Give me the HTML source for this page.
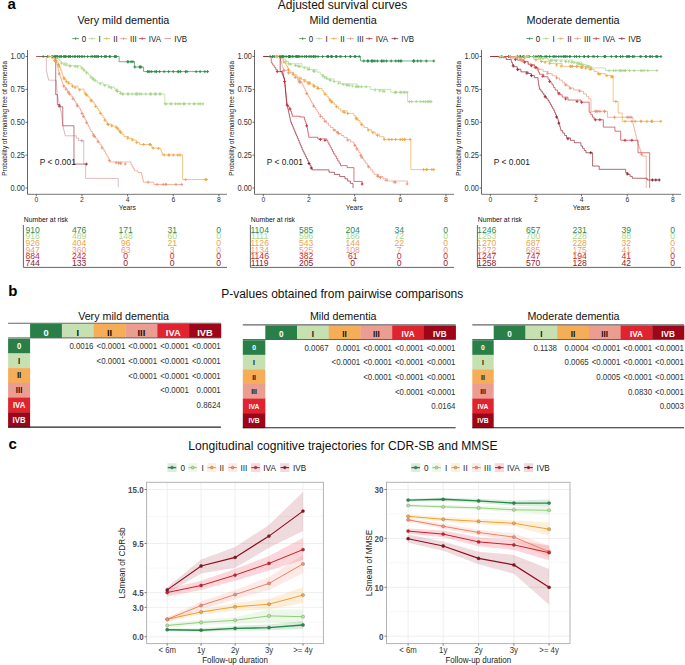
<!DOCTYPE html>
<html><head><meta charset="utf-8"><style>
html,body{margin:0;padding:0;background:#fff;}
svg{display:block;font-family:"Liberation Sans", sans-serif;}
</style></head><body>
<svg width="685" height="665" viewBox="0 0 685 665">
<rect width="685" height="665" fill="#fff"/>
<text x="7.60" y="8.90" font-size="15" fill="#000" text-anchor="start" font-weight="bold" >a</text>
<text x="342.50" y="8.90" font-size="12" fill="#111" text-anchor="middle" font-weight="normal" >Adjusted survival curves</text>
<text x="123.40" y="24.00" font-size="10.8" fill="#111" text-anchor="middle" font-weight="normal" >Very mild dementia</text>
<line x1="72.30" y1="38.60" x2="78.90" y2="38.60" stroke="#2a8a4a" stroke-width="0.75" />
<line x1="75.60" y1="37.30" x2="75.60" y2="39.90" stroke="#2a8a4a" stroke-width="0.75" />
<text transform="translate(81.70,41.60) scale(1,1.15)" font-size="8" fill="#222" text-anchor="start" font-weight="normal" >0</text>
<line x1="88.70" y1="38.60" x2="95.30" y2="38.60" stroke="#a8d68c" stroke-width="0.75" />
<line x1="92.00" y1="37.30" x2="92.00" y2="39.90" stroke="#a8d68c" stroke-width="0.75" />
<text transform="translate(98.60,41.60) scale(1,1.15)" font-size="8" fill="#222" text-anchor="start" font-weight="normal" >I</text>
<line x1="103.50" y1="38.60" x2="110.10" y2="38.60" stroke="#f0a542" stroke-width="0.75" />
<line x1="106.80" y1="37.30" x2="106.80" y2="39.90" stroke="#f0a542" stroke-width="0.75" />
<text transform="translate(113.20,41.60) scale(1,1.15)" font-size="8" fill="#222" text-anchor="start" font-weight="normal" >II</text>
<line x1="120.20" y1="38.60" x2="126.80" y2="38.60" stroke="#ee9077" stroke-width="0.75" />
<line x1="123.50" y1="37.30" x2="123.50" y2="39.90" stroke="#ee9077" stroke-width="0.75" />
<text transform="translate(130.10,41.60) scale(1,1.15)" font-size="8" fill="#222" text-anchor="start" font-weight="normal" >III</text>
<line x1="138.90" y1="38.60" x2="145.50" y2="38.60" stroke="#b8303e" stroke-width="0.75" />
<line x1="142.20" y1="37.30" x2="142.20" y2="39.90" stroke="#b8303e" stroke-width="0.75" />
<text transform="translate(148.80,41.60) scale(1,1.15)" font-size="8" fill="#222" text-anchor="start" font-weight="normal" >IVA</text>
<line x1="164.50" y1="38.60" x2="171.10" y2="38.60" stroke="#c07884" stroke-width="0.75" />
<text transform="translate(174.30,41.60) scale(1,1.15)" font-size="8" fill="#222" text-anchor="start" font-weight="normal" >IVB</text>
<line x1="27.50" y1="50.00" x2="27.50" y2="194.30" stroke="#555" stroke-width="0.9" />
<line x1="27.50" y1="194.30" x2="227.00" y2="194.30" stroke="#666" stroke-width="0.9" />
<line x1="25.50" y1="188.00" x2="27.50" y2="188.00" stroke="#444" stroke-width="0.8" />
<text transform="translate(24.90,190.60) scale(1,1.15)" font-size="7.4" fill="#333" text-anchor="end" font-weight="normal" >0.00</text>
<line x1="25.50" y1="155.12" x2="27.50" y2="155.12" stroke="#444" stroke-width="0.8" />
<text transform="translate(24.90,157.72) scale(1,1.15)" font-size="7.4" fill="#333" text-anchor="end" font-weight="normal" >0.25</text>
<line x1="25.50" y1="122.25" x2="27.50" y2="122.25" stroke="#444" stroke-width="0.8" />
<text transform="translate(24.90,124.85) scale(1,1.15)" font-size="7.4" fill="#333" text-anchor="end" font-weight="normal" >0.50</text>
<line x1="25.50" y1="89.38" x2="27.50" y2="89.38" stroke="#444" stroke-width="0.8" />
<text transform="translate(24.90,91.97) scale(1,1.15)" font-size="7.4" fill="#333" text-anchor="end" font-weight="normal" >0.75</text>
<line x1="25.50" y1="56.50" x2="27.50" y2="56.50" stroke="#444" stroke-width="0.8" />
<text transform="translate(24.90,59.10) scale(1,1.15)" font-size="7.4" fill="#333" text-anchor="end" font-weight="normal" >1.00</text>
<line x1="36.30" y1="194.30" x2="36.30" y2="196.30" stroke="#444" stroke-width="0.8" />
<text x="36.30" y="201.60" font-size="6.8" fill="#333" text-anchor="middle" font-weight="normal" >0</text>
<line x1="81.96" y1="194.30" x2="81.96" y2="196.30" stroke="#444" stroke-width="0.8" />
<text x="81.96" y="201.60" font-size="6.8" fill="#333" text-anchor="middle" font-weight="normal" >2</text>
<line x1="127.62" y1="194.30" x2="127.62" y2="196.30" stroke="#444" stroke-width="0.8" />
<text x="127.62" y="201.60" font-size="6.8" fill="#333" text-anchor="middle" font-weight="normal" >4</text>
<line x1="173.28" y1="194.30" x2="173.28" y2="196.30" stroke="#444" stroke-width="0.8" />
<text x="173.28" y="201.60" font-size="6.8" fill="#333" text-anchor="middle" font-weight="normal" >6</text>
<line x1="218.94" y1="194.30" x2="218.94" y2="196.30" stroke="#444" stroke-width="0.8" />
<text x="218.94" y="201.60" font-size="6.8" fill="#333" text-anchor="middle" font-weight="normal" >8</text>
<text x="127.40" y="210.00" font-size="6.8" fill="#222" text-anchor="middle" font-weight="normal" >Years</text>
<text transform="translate(6.90,118.40) rotate(-90) scale(1.0,1.12)" font-size="6.4" fill="#222" text-anchor="middle">Probability of remaining free of dementia</text>
<path d="M36.30,56.50L119.17,56.50L119.17,61.76L134.47,61.76L134.47,67.02L143.60,67.02L143.60,71.62L208.67,71.62" fill="none" stroke="#2a8a4a" stroke-width="0.65"/>
<path d="M36.30,56.50L54.56,56.50L57.99,56.50L57.99,59.13L59.70,59.13L59.70,61.10L61.41,61.10L61.41,63.08L67.58,63.08L67.58,65.70L80.59,65.70L80.59,67.02L82.64,67.02L82.64,69.05L84.70,69.05L84.70,71.07L86.75,71.07L86.75,73.10L88.81,73.10L88.81,75.12L90.86,75.12L90.86,77.15L93.07,77.15L93.07,79.03L95.28,79.03L95.28,80.92L97.48,80.92L97.48,82.80L103.12,82.80L103.12,84.86L108.75,84.86L108.75,86.92L114.38,86.92L114.38,88.98L117.69,88.98L117.69,91.48L121.00,91.48L121.00,93.98L164.83,93.98L164.83,103.84L203.42,103.84" fill="none" stroke="#a8d68c" stroke-width="0.65"/>
<path d="M36.30,56.50L48.86,56.50L51.82,56.50L51.82,58.60L54.79,58.60L54.79,60.71L57.76,60.71L57.76,62.81L58.73,62.81L58.73,65.28L59.70,65.28L59.70,67.74L60.67,67.74L60.67,70.21L61.64,70.21L61.64,72.67L62.33,72.67L62.33,74.84L63.01,74.84L63.01,77.01L64.61,77.01L64.61,79.32L66.21,79.32L66.21,81.62L69.18,81.62L69.18,83.85L72.14,83.85L72.14,86.09L78.08,86.09L78.08,89.11L84.01,89.11L84.01,92.27L86.02,92.27L86.02,94.64L88.03,94.64L88.03,97.00L90.04,97.00L90.04,99.37L92.05,99.37L92.05,101.74L94.06,101.74L94.06,104.10L95.56,104.10L95.56,106.34L97.05,106.34L97.05,108.57L98.55,108.57L98.55,110.81L100.05,110.81L100.05,113.04L101.54,113.04L101.54,115.28L103.04,115.28L103.04,117.52L104.54,117.52L104.54,119.75L106.03,119.75L106.03,121.99L107.53,121.99L107.53,124.22L112.21,124.22L112.21,126.06L116.89,126.06L116.89,127.90L118.66,127.90L118.66,130.07L120.43,130.07L120.43,132.24L122.20,132.24L122.20,134.41L123.97,134.41L123.97,136.58L128.42,136.58L128.42,138.36L132.87,138.36L132.87,140.13L136.30,140.13L136.30,142.30L139.72,142.30L139.72,144.47L151.13,144.47L151.59,144.47L151.59,146.25L152.05,146.25L152.05,148.02L160.04,148.02L160.04,148.55L160.88,148.55L160.88,150.70L161.71,150.70L161.71,152.85L162.55,152.85L162.55,154.99L182.64,154.99L182.64,179.58L206.38,179.58" fill="none" stroke="#f0a542" stroke-width="0.65"/>
<path d="M36.30,56.50L54.11,56.50L54.87,56.50L54.87,58.60L55.63,58.60L55.63,60.71L56.39,60.71L56.39,62.81L56.98,62.81L56.98,65.21L57.58,65.21L57.58,67.60L58.17,67.60L58.17,69.99L58.76,69.99L58.76,72.39L59.36,72.39L59.36,74.78L60.09,74.78L60.09,76.88L60.82,76.88L60.82,78.99L61.55,78.99L61.55,81.09L62.28,81.09L62.28,83.19L63.01,83.19L63.01,85.30L64.53,85.30L64.53,87.31L66.06,87.31L66.06,89.33L67.58,89.33L67.58,91.35L69.33,91.35L69.33,93.85L71.08,93.85L71.08,96.34L72.83,96.34L72.83,98.84L74.38,98.84L74.38,101.24L75.93,101.24L75.93,103.63L77.49,103.63L77.49,106.02L79.04,106.02L79.04,108.42L80.59,108.42L80.59,110.81L81.73,110.81L81.73,113.10L82.87,113.10L82.87,115.40L84.01,115.40L84.01,117.69L85.16,117.69L85.16,119.99L86.30,119.99L86.30,122.28L87.44,122.28L87.44,124.57L88.58,124.57L88.58,126.87L89.72,126.87L89.72,129.16L90.86,129.16L90.86,131.45L92.40,131.45L92.40,133.69L93.93,133.69L93.93,135.93L95.46,135.93L95.46,138.16L97.00,138.16L97.00,140.40L98.53,140.40L98.53,142.63L100.06,142.63L100.06,144.87L101.59,144.87L101.59,147.10L102.92,147.10L102.92,149.37L104.24,149.37L104.24,151.63L105.57,151.63L105.57,153.89L106.89,153.89L106.89,156.15L108.21,156.15L108.21,158.41L109.13,158.41L109.13,160.19L110.04,160.19L110.04,161.96L131.04,161.96L131.04,164.72L132.19,164.72L132.19,166.74L133.33,166.74L133.33,168.76L134.47,168.76L134.47,170.77L138.01,170.77L138.01,172.55L141.55,172.55L141.55,174.32L142.00,174.32L142.00,176.30L142.46,176.30L142.46,178.27L142.92,178.27L142.92,180.24L143.37,180.24L143.37,182.21L152.96,182.21L153.87,182.21L153.87,184.45L181.73,184.45" fill="none" stroke="#ee9077" stroke-width="0.65"/>
<path d="M36.30,56.50L46.35,56.50L46.35,71.62L46.86,71.62L46.86,73.76L47.37,73.76L47.37,75.90L47.89,75.90L47.89,78.03L48.40,78.03L48.40,80.17L56.16,80.17L56.33,80.17L56.33,82.42L56.49,82.42L56.49,84.68L56.65,84.68L56.65,86.93L56.81,86.93L56.81,89.19L56.98,89.19L56.98,91.44L57.14,91.44L57.14,93.70L57.30,93.70L57.30,95.95L57.79,95.95L57.79,98.14L58.27,98.14L58.27,100.33L58.75,100.33L58.75,102.53L59.23,102.53L59.23,104.72L59.71,104.72L59.71,106.91L60.20,106.91L60.20,109.10L60.68,109.10L60.68,111.29L61.16,111.29L61.16,113.48L61.64,113.48L61.64,115.67L61.87,115.67L61.87,117.94L62.10,117.94L62.10,120.20L62.33,120.20L62.33,122.46L62.55,122.46L62.55,124.72L62.78,124.72L62.78,126.98L63.35,126.98L63.35,129.19L63.92,129.19L63.92,131.39L64.50,131.39L64.50,133.59L65.07,133.59L65.07,135.79L73.97,135.79L76.25,135.79L76.25,138.23L78.54,138.23L78.54,140.66L83.79,140.66L83.79,164.07L85.61,164.07L85.61,178.40L118.26,178.40L118.26,187.21" fill="none" stroke="#cf9aa2" stroke-width="0.65"/>
<path d="M36.30,56.50L55.71,56.50L55.71,94.64L57.30,94.64L57.30,104.50L60.04,104.50L60.04,106.80L62.78,106.80L62.78,109.10L62.78,125.80L73.97,125.80L73.97,164.07L86.53,164.07" fill="none" stroke="#9b2f3e" stroke-width="0.65"/>
<path d="M41.75,56.50h2.8M43.15,55.00v3M46.31,56.50h2.8M47.71,55.00v3M50.88,56.50h2.8M52.28,55.00v3M55.45,56.50h2.8M56.85,55.00v3M57.73,56.50h2.8M59.13,55.00v3M60.01,56.50h2.8M61.41,55.00v3M62.30,56.50h2.8M63.70,55.00v3M64.58,56.50h2.8M65.98,55.00v3M66.86,56.50h2.8M68.26,55.00v3M69.14,56.50h2.8M70.54,55.00v3M71.43,56.50h2.8M72.83,55.00v3M73.71,56.50h2.8M75.11,55.00v3M75.99,56.50h2.8M77.39,55.00v3M78.28,56.50h2.8M79.68,55.00v3M80.56,56.50h2.8M81.96,55.00v3M82.84,56.50h2.8M84.24,55.00v3M86.27,56.50h2.8M87.67,55.00v3M89.69,56.50h2.8M91.09,55.00v3M93.12,56.50h2.8M94.52,55.00v3M96.54,56.50h2.8M97.94,55.00v3M99.97,56.50h2.8M101.37,55.00v3M103.39,56.50h2.8M104.79,55.00v3M107.96,56.50h2.8M109.36,55.00v3M113.66,56.50h2.8M115.06,55.00v3M126.22,61.76h2.8M127.62,60.26v3M129.64,61.76h2.8M131.04,60.26v3M146.77,71.62h2.8M148.17,70.12v3M153.62,71.62h2.8M155.02,70.12v3M158.18,71.62h2.8M159.58,70.12v3M162.75,71.62h2.8M164.15,70.12v3M167.31,71.62h2.8M168.71,70.12v3M171.88,71.62h2.8M173.28,70.12v3M176.45,71.62h2.8M177.85,70.12v3M185.58,71.62h2.8M186.98,70.12v3M194.71,71.62h2.8M196.11,70.12v3M206.12,71.62h2.8M207.52,70.12v3M96.89,56.50h2.8M98.29,55.00v3M68.66,56.50h2.8M70.06,55.00v3M150.29,71.62h2.8M151.69,70.12v3M55.86,56.50h2.8M57.26,55.00v3M131.51,61.76h2.8M132.91,60.26v3M103.73,56.50h2.8M105.13,55.00v3M53.50,56.50h2.8M54.90,55.00v3M126.86,61.76h2.8M128.26,60.26v3M50.15,56.50h2.8M51.55,55.00v3M114.82,56.50h2.8M116.22,55.00v3M55.43,56.50h2.8M56.83,55.00v3M58.84,56.50h2.8M60.24,55.00v3M113.33,56.50h2.8M114.73,55.00v3M179.00,71.62h2.8M180.40,70.12v3M64.24,56.50h2.8M65.64,55.00v3M80.47,56.50h2.8M81.87,55.00v3M146.45,71.62h2.8M147.85,70.12v3M198.73,71.62h2.8M200.13,70.12v3M138.24,67.02h2.8M139.64,65.52v3M108.78,56.50h2.8M110.18,55.00v3M203.39,71.62h2.8M204.79,70.12v3M51.64,56.50h2.8M53.04,55.00v3M184.16,71.62h2.8M185.56,70.12v3M91.31,56.50h2.8M92.71,55.00v3M67.58,56.50h2.8M68.98,55.00v3M63.26,56.50h2.8M64.66,55.00v3M94.39,56.50h2.8M95.79,55.00v3M177.25,71.62h2.8M178.65,70.12v3M73.53,56.50h2.8M74.93,55.00v3M138.97,67.02h2.8M140.37,65.52v3M148.32,71.62h2.8M149.72,70.12v3M104.82,56.50h2.8M106.22,55.00v3M133.44,67.02h2.8M134.84,65.52v3M54.28,56.50h2.8M55.68,55.00v3M53.76,56.50h2.8M55.16,55.00v3M77.65,56.50h2.8M79.05,55.00v3M155.10,71.62h2.8M156.50,70.12v3M113.83,56.50h2.8M115.23,55.00v3M95.31,56.50h2.8M96.71,55.00v3M139.62,67.02h2.8M141.02,65.52v3" stroke="#2a8a4a" stroke-width="0.9" fill="none"/>
<path d="M55.45,58.25h2.8M56.85,56.75v3M60.01,63.08h2.8M61.41,61.58v3M64.58,65.02h2.8M65.98,63.52v3M69.14,66.00h2.8M70.54,64.50v3M73.71,66.47h2.8M75.11,64.97v3M75.99,66.70h2.8M77.39,65.20v3M80.56,68.37h2.8M81.96,66.87v3M85.13,72.87h2.8M86.53,71.37v3M91.97,79.29h2.8M93.38,77.79v3M98.82,83.80h2.8M100.22,82.30v3M103.39,85.47h2.8M104.79,83.97v3M107.96,87.14h2.8M109.36,85.64v3M114.80,90.36h2.8M116.20,88.86v3M121.65,93.98h2.8M123.05,92.48v3M126.22,93.98h2.8M127.62,92.48v3M130.79,93.98h2.8M132.19,92.48v3M135.35,93.98h2.8M136.75,92.48v3M139.92,93.98h2.8M141.32,92.48v3M144.48,93.98h2.8M145.88,92.48v3M149.05,93.98h2.8M150.45,92.48v3M153.62,93.98h2.8M155.02,92.48v3M158.18,93.98h2.8M159.58,92.48v3M169.60,103.84h2.8M171.00,102.34v3M174.16,103.84h2.8M175.56,102.34v3M178.73,103.84h2.8M180.13,102.34v3M183.29,103.84h2.8M184.69,102.34v3M187.86,103.84h2.8M189.26,102.34v3M192.43,103.84h2.8M193.83,102.34v3M196.99,103.84h2.8M198.39,102.34v3M201.56,103.84h2.8M202.96,102.34v3M115.63,90.98h2.8M117.03,89.48v3M91.39,78.79h2.8M92.79,77.29v3M169.53,103.84h2.8M170.93,102.34v3M154.46,93.98h2.8M155.86,92.48v3M82.60,70.38h2.8M84.00,68.88v3M134.78,93.98h2.8M136.18,92.48v3M127.00,93.98h2.8M128.40,92.48v3M182.29,103.84h2.8M183.69,102.34v3M159.27,93.98h2.8M160.67,92.48v3M89.52,77.19h2.8M90.92,75.69v3M198.88,103.84h2.8M200.28,102.34v3M62.68,64.21h2.8M64.08,62.71v3M110.09,87.92h2.8M111.49,86.42v3M163.65,103.84h2.8M165.05,102.34v3M68.04,65.89h2.8M69.44,64.39v3M121.28,93.98h2.8M122.68,92.48v3M50.23,56.50h2.8M51.63,55.00v3M149.60,93.98h2.8M151.00,92.48v3M164.82,103.84h2.8M166.22,102.34v3M134.56,93.98h2.8M135.96,92.48v3M182.34,103.84h2.8M183.74,102.34v3M93.60,80.68h2.8M95.00,79.18v3M153.88,93.98h2.8M155.28,92.48v3M137.93,93.98h2.8M139.33,92.48v3M135.65,93.98h2.8M137.05,92.48v3M116.10,91.34h2.8M117.50,89.84v3M176.73,103.84h2.8M178.13,102.34v3M193.28,103.84h2.8M194.68,102.34v3M118.93,93.47h2.8M120.33,91.97v3M148.96,93.98h2.8M150.36,92.48v3" stroke="#a8d68c" stroke-width="0.9" fill="none"/>
<path d="M53.16,60.55h2.8M54.56,59.05v3M57.73,66.29h2.8M59.13,64.79v3M62.30,78.00h2.8M63.70,76.50v3M66.86,83.16h2.8M68.26,81.66v3M73.71,87.60h2.8M75.11,86.10v3M78.28,89.96h2.8M79.68,88.46v3M85.13,95.23h2.8M86.53,93.73v3M89.69,100.61h2.8M91.09,99.11v3M94.26,106.49h2.8M95.66,104.99v3M98.82,113.31h2.8M100.22,111.81v3M103.39,120.13h2.8M104.79,118.63v3M110.24,125.84h2.8M111.64,124.34v3M114.80,127.64h2.8M116.20,126.14v3M119.37,132.66h2.8M120.77,131.16v3M126.22,138.04h2.8M127.62,136.54v3M130.79,139.86h2.8M132.19,138.36v3M135.35,142.59h2.8M136.75,141.09v3M142.20,144.47h2.8M143.60,142.97v3M149.05,144.47h2.8M150.45,142.97v3M162.75,154.99h2.8M164.15,153.49v3M167.31,154.99h2.8M168.71,153.49v3M171.88,154.99h2.8M173.28,153.49v3M178.73,154.99h2.8M180.13,153.49v3M205.21,179.58h2.8M206.61,178.08v3M53.80,60.99h2.8M55.20,59.49v3M156.94,148.44h2.8M158.34,146.94v3M148.19,144.47h2.8M149.59,142.97v3M203.87,179.58h2.8M205.27,178.08v3M176.32,154.99h2.8M177.72,153.49v3M89.84,100.78h2.8M91.24,99.28v3M106.13,124.22h2.8M107.53,122.72v3M151.65,148.09h2.8M153.05,146.59v3M47.66,56.65h2.8M49.06,55.15v3M118.34,131.40h2.8M119.74,129.90v3M71.08,86.26h2.8M72.48,84.76v3M62.88,78.84h2.8M64.28,77.34v3M53.52,60.80h2.8M54.92,59.30v3M167.68,154.99h2.8M169.08,153.49v3M64.85,81.65h2.8M66.25,80.15v3M83.89,93.77h2.8M85.29,92.27v3M106.96,124.55h2.8M108.36,123.05v3M184.29,179.58h2.8M185.69,178.08v3M57.00,64.44h2.8M58.40,62.94v3M116.33,128.93h2.8M117.73,127.43v3" stroke="#f0a542" stroke-width="0.9" fill="none"/>
<path d="M57.73,73.86h2.8M59.13,72.36v3M62.30,86.21h2.8M63.70,84.71v3M66.86,92.33h2.8M68.26,90.83v3M71.43,98.84h2.8M72.83,97.34v3M75.99,105.88h2.8M77.39,104.38v3M80.56,113.56h2.8M81.96,112.06v3M85.13,122.74h2.8M86.53,121.24v3M91.97,135.12h2.8M93.38,133.62v3M96.54,141.78h2.8M97.94,140.28v3M107.96,160.63h2.8M109.36,159.13v3M114.80,162.77h2.8M116.20,161.27v3M117.09,163.07h2.8M118.49,161.57v3M119.37,163.37h2.8M120.77,161.87v3M123.94,163.97h2.8M125.34,162.47v3M146.77,182.21h2.8M148.17,180.71v3M180.33,184.45h2.8M181.73,182.95v3M118.92,163.31h2.8M120.32,161.81v3M164.43,184.45h2.8M165.83,182.95v3M155.70,184.45h2.8M157.10,182.95v3M161.79,184.45h2.8M163.19,182.95v3M81.98,116.41h2.8M83.38,114.91v3M100.63,147.86h2.8M102.03,146.36v3M92.93,136.51h2.8M94.33,135.01v3M164.54,184.45h2.8M165.94,182.95v3M174.57,184.45h2.8M175.97,182.95v3M64.60,89.26h2.8M66.00,87.76v3M68.05,94.02h2.8M69.45,92.52v3M75.65,105.35h2.8M77.05,103.85v3" stroke="#ee9077" stroke-width="0.9" fill="none"/>
<path d="M57.73,106.03h2.8M59.13,104.53v3M85.13,164.07h2.8M86.53,162.57v3" stroke="#9b2f3e" stroke-width="0.9" fill="none"/>
<path d="M80.56,140.66h2.8M81.96,139.16v3" stroke="#cf9aa2" stroke-width="0.9" fill="none"/>
<text transform="translate(39.80,164.80) scale(1,1.05)" font-size="8.4" fill="#222" text-anchor="start" font-weight="normal" >P &lt; 0.001</text>
<text x="23.80" y="221.70" font-size="6.8" fill="#111" text-anchor="start" font-weight="normal" >Number at risk</text>
<line x1="23.40" y1="225.00" x2="23.40" y2="267.40" stroke="#555" stroke-width="0.9" />
<line x1="23.40" y1="267.40" x2="227.00" y2="267.40" stroke="#555" stroke-width="0.9" />
<text x="32.70" y="232.80" font-size="8.6" fill="#2e8a50" text-anchor="middle" font-weight="normal" >910</text>
<text x="79.20" y="232.80" font-size="8.6" fill="#2e8a50" text-anchor="middle" font-weight="normal" >476</text>
<text x="125.70" y="232.80" font-size="8.6" fill="#2e8a50" text-anchor="middle" font-weight="normal" >171</text>
<text x="172.20" y="232.80" font-size="8.6" fill="#2e8a50" text-anchor="middle" font-weight="normal" >31</text>
<text x="218.70" y="232.80" font-size="8.6" fill="#2e8a50" text-anchor="middle" font-weight="normal" >0</text>
<text x="32.70" y="239.40" font-size="8.6" fill="#a6d890" text-anchor="middle" font-weight="normal" >918</text>
<text x="79.20" y="239.40" font-size="8.6" fill="#a6d890" text-anchor="middle" font-weight="normal" >489</text>
<text x="125.70" y="239.40" font-size="8.6" fill="#a6d890" text-anchor="middle" font-weight="normal" >148</text>
<text x="172.20" y="239.40" font-size="8.6" fill="#a6d890" text-anchor="middle" font-weight="normal" >60</text>
<text x="218.70" y="239.40" font-size="8.6" fill="#a6d890" text-anchor="middle" font-weight="normal" >0</text>
<text x="32.70" y="246.00" font-size="8.6" fill="#f0a448" text-anchor="middle" font-weight="normal" >926</text>
<text x="79.20" y="246.00" font-size="8.6" fill="#f0a448" text-anchor="middle" font-weight="normal" >404</text>
<text x="125.70" y="246.00" font-size="8.6" fill="#f0a448" text-anchor="middle" font-weight="normal" >96</text>
<text x="172.20" y="246.00" font-size="8.6" fill="#f0a448" text-anchor="middle" font-weight="normal" >21</text>
<text x="218.70" y="246.00" font-size="8.6" fill="#f0a448" text-anchor="middle" font-weight="normal" >0</text>
<text x="32.70" y="252.60" font-size="8.6" fill="#ef9a88" text-anchor="middle" font-weight="normal" >947</text>
<text x="79.20" y="252.60" font-size="8.6" fill="#ef9a88" text-anchor="middle" font-weight="normal" >360</text>
<text x="125.70" y="252.60" font-size="8.6" fill="#ef9a88" text-anchor="middle" font-weight="normal" >63</text>
<text x="172.20" y="252.60" font-size="8.6" fill="#ef9a88" text-anchor="middle" font-weight="normal" >3</text>
<text x="218.70" y="252.60" font-size="8.6" fill="#ef9a88" text-anchor="middle" font-weight="normal" >0</text>
<text x="32.70" y="259.20" font-size="8.6" fill="#c42a36" text-anchor="middle" font-weight="normal" >884</text>
<text x="79.20" y="259.20" font-size="8.6" fill="#c42a36" text-anchor="middle" font-weight="normal" >242</text>
<text x="125.70" y="259.20" font-size="8.6" fill="#c42a36" text-anchor="middle" font-weight="normal" >0</text>
<text x="172.20" y="259.20" font-size="8.6" fill="#c42a36" text-anchor="middle" font-weight="normal" >0</text>
<text x="218.70" y="259.20" font-size="8.6" fill="#c42a36" text-anchor="middle" font-weight="normal" >0</text>
<text x="32.70" y="265.80" font-size="8.6" fill="#8a1c2c" text-anchor="middle" font-weight="normal" >744</text>
<text x="79.20" y="265.80" font-size="8.6" fill="#8a1c2c" text-anchor="middle" font-weight="normal" >133</text>
<text x="125.70" y="265.80" font-size="8.6" fill="#8a1c2c" text-anchor="middle" font-weight="normal" >0</text>
<text x="172.20" y="265.80" font-size="8.6" fill="#8a1c2c" text-anchor="middle" font-weight="normal" >0</text>
<text x="218.70" y="265.80" font-size="8.6" fill="#8a1c2c" text-anchor="middle" font-weight="normal" >0</text>
<text x="343.10" y="24.00" font-size="10.8" fill="#111" text-anchor="middle" font-weight="normal" >Mild dementia</text>
<line x1="299.30" y1="38.60" x2="305.90" y2="38.60" stroke="#2a8a4a" stroke-width="0.75" />
<line x1="302.60" y1="37.30" x2="302.60" y2="39.90" stroke="#2a8a4a" stroke-width="0.75" />
<text transform="translate(308.70,41.60) scale(1,1.15)" font-size="8" fill="#222" text-anchor="start" font-weight="normal" >0</text>
<line x1="315.70" y1="38.60" x2="322.30" y2="38.60" stroke="#a8d68c" stroke-width="0.75" />
<line x1="319.00" y1="37.30" x2="319.00" y2="39.90" stroke="#a8d68c" stroke-width="0.75" />
<text transform="translate(325.60,41.60) scale(1,1.15)" font-size="8" fill="#222" text-anchor="start" font-weight="normal" >I</text>
<line x1="330.50" y1="38.60" x2="337.10" y2="38.60" stroke="#f0a542" stroke-width="0.75" />
<line x1="333.80" y1="37.30" x2="333.80" y2="39.90" stroke="#f0a542" stroke-width="0.75" />
<text transform="translate(340.20,41.60) scale(1,1.15)" font-size="8" fill="#222" text-anchor="start" font-weight="normal" >II</text>
<line x1="347.20" y1="38.60" x2="353.80" y2="38.60" stroke="#ee9077" stroke-width="0.75" />
<line x1="350.50" y1="37.30" x2="350.50" y2="39.90" stroke="#ee9077" stroke-width="0.75" />
<text transform="translate(357.10,41.60) scale(1,1.15)" font-size="8" fill="#222" text-anchor="start" font-weight="normal" >III</text>
<line x1="365.90" y1="38.60" x2="372.50" y2="38.60" stroke="#c42a36" stroke-width="0.75" />
<line x1="369.20" y1="37.30" x2="369.20" y2="39.90" stroke="#c42a36" stroke-width="0.75" />
<text transform="translate(375.80,41.60) scale(1,1.15)" font-size="8" fill="#222" text-anchor="start" font-weight="normal" >IVA</text>
<line x1="391.50" y1="38.60" x2="398.10" y2="38.60" stroke="#8e1f33" stroke-width="0.75" />
<line x1="394.80" y1="37.30" x2="394.80" y2="39.90" stroke="#8e1f33" stroke-width="0.75" />
<text transform="translate(401.30,41.60) scale(1,1.15)" font-size="8" fill="#222" text-anchor="start" font-weight="normal" >IVB</text>
<line x1="254.50" y1="50.00" x2="254.50" y2="194.30" stroke="#555" stroke-width="0.9" />
<line x1="254.50" y1="194.30" x2="454.00" y2="194.30" stroke="#666" stroke-width="0.9" />
<line x1="252.50" y1="188.00" x2="254.50" y2="188.00" stroke="#444" stroke-width="0.8" />
<text transform="translate(251.90,190.60) scale(1,1.15)" font-size="7.4" fill="#333" text-anchor="end" font-weight="normal" >0.00</text>
<line x1="252.50" y1="155.12" x2="254.50" y2="155.12" stroke="#444" stroke-width="0.8" />
<text transform="translate(251.90,157.72) scale(1,1.15)" font-size="7.4" fill="#333" text-anchor="end" font-weight="normal" >0.25</text>
<line x1="252.50" y1="122.25" x2="254.50" y2="122.25" stroke="#444" stroke-width="0.8" />
<text transform="translate(251.90,124.85) scale(1,1.15)" font-size="7.4" fill="#333" text-anchor="end" font-weight="normal" >0.50</text>
<line x1="252.50" y1="89.38" x2="254.50" y2="89.38" stroke="#444" stroke-width="0.8" />
<text transform="translate(251.90,91.97) scale(1,1.15)" font-size="7.4" fill="#333" text-anchor="end" font-weight="normal" >0.75</text>
<line x1="252.50" y1="56.50" x2="254.50" y2="56.50" stroke="#444" stroke-width="0.8" />
<text transform="translate(251.90,59.10) scale(1,1.15)" font-size="7.4" fill="#333" text-anchor="end" font-weight="normal" >1.00</text>
<line x1="263.30" y1="194.30" x2="263.30" y2="196.30" stroke="#444" stroke-width="0.8" />
<text x="263.30" y="201.60" font-size="6.8" fill="#333" text-anchor="middle" font-weight="normal" >0</text>
<line x1="308.96" y1="194.30" x2="308.96" y2="196.30" stroke="#444" stroke-width="0.8" />
<text x="308.96" y="201.60" font-size="6.8" fill="#333" text-anchor="middle" font-weight="normal" >2</text>
<line x1="354.62" y1="194.30" x2="354.62" y2="196.30" stroke="#444" stroke-width="0.8" />
<text x="354.62" y="201.60" font-size="6.8" fill="#333" text-anchor="middle" font-weight="normal" >4</text>
<line x1="400.28" y1="194.30" x2="400.28" y2="196.30" stroke="#444" stroke-width="0.8" />
<text x="400.28" y="201.60" font-size="6.8" fill="#333" text-anchor="middle" font-weight="normal" >6</text>
<line x1="445.94" y1="194.30" x2="445.94" y2="196.30" stroke="#444" stroke-width="0.8" />
<text x="445.94" y="201.60" font-size="6.8" fill="#333" text-anchor="middle" font-weight="normal" >8</text>
<text x="354.40" y="210.00" font-size="6.8" fill="#222" text-anchor="middle" font-weight="normal" >Years</text>
<text transform="translate(233.90,118.40) rotate(-90) scale(1.0,1.12)" font-size="6.4" fill="#222" text-anchor="middle">Probability of remaining free of dementia</text>
<path d="M263.30,56.50L360.56,56.50L360.56,60.97L433.84,60.97" fill="none" stroke="#2a8a4a" stroke-width="0.65"/>
<path d="M263.30,56.50L279.97,56.50L282.78,56.50L282.78,58.91L285.60,58.91L285.60,61.32L288.41,61.32L288.41,63.73L301.88,63.73L301.88,67.02L309.42,67.02L309.42,69.58L316.95,69.58L316.95,72.15L320.30,72.15L320.30,74.38L323.65,74.38L323.65,76.62L327.00,76.62L327.00,78.86L333.73,78.86L333.73,81.35L340.47,81.35L340.47,83.85L357.13,83.85L357.13,86.75L370.60,86.75L370.60,89.38L390.69,89.38L390.69,92.27L407.59,92.27L407.59,101.60L431.10,101.60" fill="none" stroke="#a8d68c" stroke-width="0.65"/>
<path d="M263.30,56.50L279.97,56.50L281.64,56.50L281.64,58.91L283.31,58.91L283.31,61.32L284.99,61.32L284.99,63.73L286.24,63.73L286.24,65.87L287.50,65.87L287.50,68.01L288.76,68.01L288.76,70.14L290.01,70.14L290.01,72.28L293.44,72.28L293.44,74.71L296.86,74.71L296.86,77.15L301.35,77.15L301.35,79.47L305.84,79.47L305.84,81.79L310.33,81.79L310.33,84.11L314.21,84.11L314.21,86.31L318.09,86.31L318.09,88.50L321.97,88.50L321.97,90.69L323.66,90.69L323.66,92.72L325.35,92.72L325.35,94.74L327.04,94.74L327.04,96.77L328.73,96.77L328.73,98.79L330.42,98.79L330.42,100.82L332.43,100.82L332.43,102.81L334.44,102.81L334.44,104.81L336.45,104.81L336.45,106.81L338.46,106.81L338.46,108.81L340.47,108.81L340.47,110.81L347.20,110.81L347.20,113.31L353.94,113.31L353.94,115.81L355.94,115.81L355.94,118.15L357.95,118.15L357.95,120.49L359.96,120.49L359.96,122.83L361.97,122.83L361.97,125.17L363.98,125.17L363.98,127.51L367.71,127.51L367.71,129.70L371.44,129.70L371.44,131.89L375.17,131.89L375.17,134.09L379.62,134.09L379.62,136.78L384.07,136.78L384.07,139.48L410.78,139.48L410.78,169.59L433.84,169.59" fill="none" stroke="#f0a542" stroke-width="0.65"/>
<path d="M263.30,56.50L279.28,56.50L279.97,56.50L279.97,58.80L280.65,58.80L280.65,61.10L281.34,61.10L281.34,63.40L282.02,63.40L282.02,65.70L282.71,65.70L282.71,68.01L283.39,68.01L283.39,70.31L288.41,70.31L288.41,72.94L293.44,72.94L293.44,75.57L295.55,75.57L295.55,77.70L297.66,77.70L297.66,79.84L299.77,79.84L299.77,81.98L301.88,81.98L301.88,84.11L302.94,84.11L302.94,86.20L303.99,86.20L303.99,88.29L305.05,88.29L305.05,90.38L306.11,90.38L306.11,92.47L307.16,92.47L307.16,94.55L308.22,94.55L308.22,96.64L309.27,96.64L309.27,98.73L310.33,98.73L310.33,100.82L311.70,100.82L311.70,103.05L313.07,103.05L313.07,105.29L314.44,105.29L314.44,107.52L315.81,107.52L315.81,109.76L317.18,109.76L317.18,111.99L318.55,111.99L318.55,114.23L320.53,114.23L320.53,116.44L322.51,116.44L322.51,118.66L324.48,118.66L324.48,120.87L326.46,120.87L326.46,123.08L328.44,123.08L328.44,125.30L330.42,125.30L330.42,127.51L333.11,127.51L333.11,129.51L335.81,129.51L335.81,131.51L338.50,131.51L338.50,133.51L341.20,133.51L341.20,135.51L343.89,135.51L343.89,137.50L347.24,137.50L347.24,139.74L350.59,139.74L350.59,141.97L353.94,141.97L353.94,144.21L355.19,144.21L355.19,146.31L356.45,146.31L356.45,148.42L357.70,148.42L357.70,150.52L358.96,150.52L358.96,152.63L360.21,152.63L360.21,154.73L361.47,154.73L361.47,156.83L362.72,156.83L362.72,158.94L363.98,158.94L363.98,161.04L365.65,161.04L365.65,163.26L367.33,163.26L367.33,165.47L369.00,165.47L369.00,167.68L370.68,167.68L370.68,169.90L372.35,169.90L372.35,172.11L374.03,172.11L374.03,174.32L378.52,174.32L378.52,176.56L383.01,176.56L383.01,178.79L387.50,178.79L387.50,181.03L407.59,181.03L407.59,184.06" fill="none" stroke="#ee9077" stroke-width="0.65"/>
<path d="M263.30,56.50L271.29,56.50L271.29,63.08L272.77,63.08L272.77,65.21L274.26,65.21L274.26,67.35L275.74,67.35L275.74,69.49L277.23,69.49L277.23,71.62L282.71,71.62L282.71,72.94L283.16,72.94L283.16,75.07L283.62,75.07L283.62,77.21L284.08,77.21L284.08,79.35L284.53,79.35L284.53,81.48L284.76,81.48L284.76,83.64L284.99,83.64L284.99,85.79L285.22,85.79L285.22,87.94L285.45,87.94L285.45,90.09L285.67,90.09L285.67,92.24L285.90,92.24L285.90,94.40L286.13,94.40L286.13,96.55L286.36,96.55L286.36,98.70L286.59,98.70L286.59,100.85L286.81,100.85L286.81,103.00L287.04,103.00L287.04,105.16L288.53,105.16L288.53,107.13L290.01,107.13L290.01,109.10L290.77,109.10L290.77,111.47L291.53,111.47L291.53,113.83L292.29,113.83L292.29,116.20L300.06,116.20L300.06,116.99L304.39,116.99L304.39,119.62L305.16,119.62L305.16,121.68L305.92,121.68L305.92,123.74L306.68,123.74L306.68,125.80L307.09,125.80L307.09,128.09L307.50,128.09L307.50,130.38L307.91,130.38L307.91,132.66L308.32,132.66L308.32,134.95L308.73,134.95L308.73,137.24L317.75,137.24L317.75,138.95L326.77,138.95L326.77,140.66L327.91,140.66L327.91,142.85L329.05,142.85L329.05,145.04L330.19,145.04L330.19,147.24L331.33,147.24L331.33,149.43L332.47,149.43L332.47,151.62L333.62,151.62L333.62,153.81L334.99,153.81L334.99,156.18L336.36,156.18L336.36,158.54L337.73,158.54L337.73,160.91L339.10,160.91L339.10,163.28L340.47,163.28L340.47,165.65L347.20,165.65L347.20,167.62L353.94,167.62L353.94,169.59L353.94,181.43L362.15,181.43L362.15,184.06" fill="none" stroke="#c42a36" stroke-width="0.65"/>
<path d="M263.30,56.50L280.19,56.50L280.19,71.62L282.02,71.62L282.02,73.99L282.86,73.99L282.86,76.05L283.69,76.05L283.69,78.11L284.53,78.11L284.53,80.17L284.72,80.17L284.72,82.32L284.91,82.32L284.91,84.47L285.09,84.47L285.09,86.63L285.28,86.63L285.28,88.78L285.47,88.78L285.47,90.93L285.65,90.93L285.65,93.08L285.84,93.08L285.84,95.23L286.03,95.23L286.03,97.38L286.21,97.38L286.21,99.54L286.40,99.54L286.40,101.69L286.59,101.69L286.59,103.84L287.04,103.84L287.04,105.81L287.50,105.81L287.50,107.78L287.96,107.78L287.96,109.76L288.41,109.76L288.41,111.73L288.87,111.73L288.87,113.83L289.33,113.83L289.33,115.94L289.78,115.94L289.78,118.04L290.24,118.04L290.24,120.15L290.70,120.15L290.70,122.25L291.53,122.25L291.53,124.22L292.37,124.22L292.37,126.19L293.21,126.19L293.21,128.17L294.01,128.17L294.01,130.11L294.81,130.11L294.81,132.05L295.60,132.05L295.60,133.99L296.40,133.99L296.40,135.93L297.35,135.93L297.35,138.20L298.30,138.20L298.30,140.47L299.24,140.47L299.24,142.75L300.19,142.75L300.19,145.02L301.13,145.02L301.13,147.29L302.08,147.29L302.08,149.56L303.02,149.56L303.02,151.84L304.17,151.84L304.17,154.09L305.31,154.09L305.31,156.34L306.45,156.34L306.45,158.59L307.59,158.59L307.59,160.85L308.73,160.85L308.73,163.10L309.87,163.10L309.87,165.35L311.01,165.35L311.01,167.60L312.16,167.60L312.16,169.85L329.05,169.85L329.05,172.22L334.38,172.22L334.38,174.41L339.70,174.41L339.70,176.60L345.03,176.60L345.03,178.79L347.69,178.79L347.69,181.07L350.36,181.07L350.36,183.35L353.02,183.35L353.02,185.63L353.02,188.00" fill="none" stroke="#8a1a2a" stroke-width="0.65"/>
<path d="M268.75,56.50h2.8M270.15,55.00v3M273.32,56.50h2.8M274.72,55.00v3M277.88,56.50h2.8M279.28,55.00v3M282.45,56.50h2.8M283.85,55.00v3M284.73,56.50h2.8M286.13,55.00v3M287.01,56.50h2.8M288.41,55.00v3M288.15,56.50h2.8M289.55,55.00v3M289.30,56.50h2.8M290.70,55.00v3M291.58,56.50h2.8M292.98,55.00v3M293.86,56.50h2.8M295.26,55.00v3M296.15,56.50h2.8M297.55,55.00v3M298.43,56.50h2.8M299.83,55.00v3M300.71,56.50h2.8M302.11,55.00v3M302.99,56.50h2.8M304.39,55.00v3M305.28,56.50h2.8M306.68,55.00v3M307.56,56.50h2.8M308.96,55.00v3M309.84,56.50h2.8M311.24,55.00v3M312.13,56.50h2.8M313.53,55.00v3M314.41,56.50h2.8M315.81,55.00v3M316.69,56.50h2.8M318.09,55.00v3M321.26,56.50h2.8M322.66,55.00v3M325.82,56.50h2.8M327.22,55.00v3M330.39,56.50h2.8M331.79,55.00v3M334.96,56.50h2.8M336.36,55.00v3M339.52,56.50h2.8M340.92,55.00v3M344.09,56.50h2.8M345.49,55.00v3M348.65,56.50h2.8M350.05,55.00v3M353.22,56.50h2.8M354.62,55.00v3M357.79,56.50h2.8M359.19,55.00v3M366.92,60.97h2.8M368.32,59.47v3M371.48,60.97h2.8M372.88,59.47v3M376.05,60.97h2.8M377.45,59.47v3M380.62,60.97h2.8M382.02,59.47v3M385.18,60.97h2.8M386.58,59.47v3M389.75,60.97h2.8M391.15,59.47v3M394.31,60.97h2.8M395.71,59.47v3M398.88,60.97h2.8M400.28,59.47v3M412.58,60.97h2.8M413.98,59.47v3M419.43,60.97h2.8M420.83,59.47v3M432.44,60.97h2.8M433.84,59.47v3M308.69,56.50h2.8M310.09,55.00v3M349.31,56.50h2.8M350.71,55.00v3M366.12,60.97h2.8M367.52,59.47v3M313.44,56.50h2.8M314.84,55.00v3M271.69,56.50h2.8M273.09,55.00v3M338.65,56.50h2.8M340.05,55.00v3M330.63,56.50h2.8M332.03,55.00v3M362.44,60.97h2.8M363.84,59.47v3M424.87,60.97h2.8M426.27,59.47v3M382.48,60.97h2.8M383.88,59.47v3M354.24,56.50h2.8M355.64,55.00v3M370.72,60.97h2.8M372.12,59.47v3M380.18,60.97h2.8M381.58,59.47v3M279.75,56.50h2.8M281.15,55.00v3M416.22,60.97h2.8M417.62,59.47v3M396.93,60.97h2.8M398.33,59.47v3M412.19,60.97h2.8M413.59,59.47v3M399.82,60.97h2.8M401.22,59.47v3M334.37,56.50h2.8M335.77,55.00v3M335.43,56.50h2.8M336.83,55.00v3M287.74,56.50h2.8M289.14,55.00v3M373.41,60.97h2.8M374.81,59.47v3M281.08,56.50h2.8M282.48,55.00v3M281.90,56.50h2.8M283.30,55.00v3M304.73,56.50h2.8M306.13,55.00v3M297.23,56.50h2.8M298.63,55.00v3M325.92,56.50h2.8M327.32,55.00v3M279.52,56.50h2.8M280.92,55.00v3M271.07,56.50h2.8M272.47,55.00v3M295.45,56.50h2.8M296.85,55.00v3M287.41,56.50h2.8M288.81,55.00v3M329.72,56.50h2.8M331.12,55.00v3M275.15,56.50h2.8M276.55,55.00v3M412.16,60.97h2.8M413.56,59.47v3M370.15,60.97h2.8M371.55,59.47v3M295.01,56.50h2.8M296.41,55.00v3M311.75,56.50h2.8M313.15,55.00v3M327.10,56.50h2.8M328.50,55.00v3M329.81,56.50h2.8M331.21,55.00v3M290.86,56.50h2.8M292.26,55.00v3" stroke="#2a8a4a" stroke-width="0.9" fill="none"/>
<path d="M289.30,64.29h2.8M290.70,62.79v3M293.86,65.40h2.8M295.26,63.90v3M298.43,66.52h2.8M299.83,65.02v3M302.99,67.87h2.8M304.39,66.37v3M307.56,69.43h2.8M308.96,67.93v3M312.13,70.98h2.8M313.53,69.48v3M321.26,75.96h2.8M322.66,74.46v3M328.11,79.79h2.8M329.51,78.29v3M332.67,81.48h2.8M334.07,79.98v3M337.24,83.17h2.8M338.64,81.67v3M341.81,84.33h2.8M343.21,82.83v3M346.37,85.12h2.8M347.77,83.62v3M350.94,85.91h2.8M352.34,84.41v3M360.07,86.75h2.8M361.47,85.25v3M364.63,86.75h2.8M366.03,85.25v3M373.77,90.03h2.8M375.17,88.53v3M378.33,90.69h2.8M379.73,89.19v3M382.90,91.35h2.8M384.30,89.85v3M394.31,92.27h2.8M395.71,90.77v3M398.88,92.27h2.8M400.28,90.77v3M403.45,92.27h2.8M404.85,90.77v3M410.30,101.60h2.8M411.69,100.10v3M414.86,101.60h2.8M416.26,100.10v3M419.43,101.60h2.8M420.83,100.10v3M423.99,101.60h2.8M425.39,100.10v3M429.70,101.60h2.8M431.10,100.10v3M405.73,92.27h2.8M407.13,90.77v3M428.61,101.60h2.8M430.01,100.10v3M344.97,84.88h2.8M346.37,83.38v3M347.80,85.37h2.8M349.20,83.87v3M284.66,61.72h2.8M286.06,60.22v3M287.25,63.79h2.8M288.65,62.29v3M325.40,78.72h2.8M326.80,77.22v3M313.04,71.29h2.8M314.44,69.79v3M402.55,92.27h2.8M403.95,90.77v3M296.65,66.08h2.8M298.05,64.58v3M274.70,56.50h2.8M276.10,55.00v3M421.92,101.60h2.8M423.32,100.10v3M354.85,86.59h2.8M356.25,85.09v3M294.29,65.51h2.8M295.69,64.01v3M357.22,86.75h2.8M358.62,85.25v3M275.32,56.50h2.8M276.72,55.00v3M354.83,86.59h2.8M356.23,85.09v3M426.29,101.60h2.8M427.69,100.10v3M408.01,101.60h2.8M409.41,100.10v3M381.50,91.15h2.8M382.90,89.65v3M312.46,71.10h2.8M313.86,69.60v3M329.22,80.20h2.8M330.62,78.70v3M297.54,66.30h2.8M298.94,64.80v3M393.51,92.27h2.8M394.91,90.77v3M355.54,86.71h2.8M356.94,85.21v3M394.64,92.27h2.8M396.04,90.77v3M323.34,77.35h2.8M324.74,75.85v3M306.42,69.04h2.8M307.82,67.54v3M399.79,92.27h2.8M401.19,90.77v3M427.31,101.60h2.8M428.71,100.10v3" stroke="#a8d68c" stroke-width="0.9" fill="none"/>
<path d="M282.45,62.09h2.8M283.85,60.59v3M287.01,69.56h2.8M288.41,68.06v3M291.58,74.39h2.8M292.98,72.89v3M298.43,78.68h2.8M299.83,77.18v3M302.99,81.04h2.8M304.39,79.54v3M312.13,85.92h2.8M313.53,84.42v3M316.69,88.50h2.8M318.09,87.00v3M323.54,94.25h2.8M324.94,92.75v3M330.39,102.18h2.8M331.79,100.68v3M334.96,106.72h2.8M336.36,105.22v3M341.81,111.83h2.8M343.21,110.33v3M346.37,113.52h2.8M347.77,112.02v3M355.50,119.26h2.8M356.90,117.76v3M360.07,124.58h2.8M361.47,123.08v3M366.92,130.06h2.8M368.32,128.56v3M371.48,132.74h2.8M372.88,131.24v3M376.05,135.47h2.8M377.45,133.97v3M387.47,139.48h2.8M388.87,137.98v3M394.31,139.48h2.8M395.71,137.98v3M398.88,139.48h2.8M400.28,137.98v3M403.45,139.48h2.8M404.85,137.98v3M432.44,169.59h2.8M433.84,168.09v3M408.65,139.48h2.8M410.05,137.98v3M401.14,139.48h2.8M402.54,137.98v3M403.12,139.48h2.8M404.52,137.98v3M390.45,139.48h2.8M391.85,137.98v3M307.63,83.44h2.8M309.03,81.94v3M354.58,118.19h2.8M355.98,116.69v3M328.42,100.10h2.8M329.82,98.60v3M275.71,56.50h2.8M277.11,55.00v3M275.54,56.50h2.8M276.94,55.00v3M316.13,88.18h2.8M317.53,86.68v3M312.86,86.34h2.8M314.26,84.84v3M382.81,139.48h2.8M384.21,137.98v3M425.42,169.59h2.8M426.82,168.09v3M343.22,112.35h2.8M344.62,110.85v3M422.27,169.59h2.8M423.67,168.09v3M430.51,169.59h2.8M431.91,168.09v3M425.18,169.59h2.8M426.58,168.09v3M329.89,101.68h2.8M331.29,100.18v3M306.62,82.92h2.8M308.02,81.42v3M307.65,83.45h2.8M309.05,81.95v3" stroke="#f0a542" stroke-width="0.9" fill="none"/>
<path d="M282.45,70.55h2.8M283.85,69.05v3M287.01,72.94h2.8M288.41,71.44v3M293.86,77.42h2.8M295.26,75.92v3M298.43,82.04h2.8M299.83,80.54v3M305.28,93.59h2.8M306.68,92.09v3M312.13,106.03h2.8M313.53,104.53v3M318.98,116.27h2.8M320.38,114.77v3M323.54,121.38h2.8M324.94,119.88v3M332.67,130.22h2.8M334.07,128.72v3M337.24,133.61h2.8M338.64,132.11v3M346.37,140.10h2.8M347.77,138.60v3M353.22,145.36h2.8M354.62,143.86v3M366.92,166.78h2.8M368.32,165.28v3M376.05,176.03h2.8M377.45,174.53v3M405.73,183.99h2.8M407.13,182.49v3M297.62,81.22h2.8M299.02,79.72v3M298.65,82.26h2.8M300.05,80.76v3M355.38,148.97h2.8M356.78,147.47v3M392.71,182.03h2.8M394.11,180.53v3M384.62,180.30h2.8M386.02,178.80v3M335.83,132.57h2.8M337.23,131.07v3M359.28,155.52h2.8M360.68,154.02v3M379.11,177.55h2.8M380.51,176.05v3M282.49,70.57h2.8M283.89,69.07v3M360.31,157.24h2.8M361.71,155.74v3M393.99,182.22h2.8M395.39,180.72v3M376.76,176.38h2.8M378.16,174.88v3" stroke="#ee9077" stroke-width="0.9" fill="none"/>
<path d="M275.83,71.62h2.8M277.23,70.12v3M283.13,81.48h2.8M284.53,79.98v3M285.64,105.16h2.8M287.04,103.66v3M288.61,109.10h2.8M290.01,107.60v3M305.28,125.80h2.8M306.68,124.30v3M323.54,140.31h2.8M324.94,138.81v3M318.98,139.45h2.8M320.38,137.95v3M360.75,184.06h2.8M362.15,182.56v3" stroke="#c42a36" stroke-width="0.9" fill="none"/>
<path d="M307.56,163.55h2.8M308.96,162.05v3M309.84,168.05h2.8M311.24,166.55v3" stroke="#8a1a2a" stroke-width="0.9" fill="none"/>
<text transform="translate(266.80,164.80) scale(1,1.05)" font-size="8.4" fill="#222" text-anchor="start" font-weight="normal" >P &lt; 0.001</text>
<text x="250.80" y="221.70" font-size="6.8" fill="#111" text-anchor="start" font-weight="normal" >Number at risk</text>
<line x1="250.40" y1="225.00" x2="250.40" y2="267.40" stroke="#555" stroke-width="0.9" />
<line x1="250.40" y1="267.40" x2="454.00" y2="267.40" stroke="#555" stroke-width="0.9" />
<text x="259.70" y="232.80" font-size="8.6" fill="#2e8a50" text-anchor="middle" font-weight="normal" >1104</text>
<text x="306.20" y="232.80" font-size="8.6" fill="#2e8a50" text-anchor="middle" font-weight="normal" >585</text>
<text x="352.70" y="232.80" font-size="8.6" fill="#2e8a50" text-anchor="middle" font-weight="normal" >204</text>
<text x="399.20" y="232.80" font-size="8.6" fill="#2e8a50" text-anchor="middle" font-weight="normal" >34</text>
<text x="445.70" y="232.80" font-size="8.6" fill="#2e8a50" text-anchor="middle" font-weight="normal" >0</text>
<text x="259.70" y="239.40" font-size="8.6" fill="#a6d890" text-anchor="middle" font-weight="normal" >1111</text>
<text x="306.20" y="239.40" font-size="8.6" fill="#a6d890" text-anchor="middle" font-weight="normal" >596</text>
<text x="352.70" y="239.40" font-size="8.6" fill="#a6d890" text-anchor="middle" font-weight="normal" >186</text>
<text x="399.20" y="239.40" font-size="8.6" fill="#a6d890" text-anchor="middle" font-weight="normal" >72</text>
<text x="445.70" y="239.40" font-size="8.6" fill="#a6d890" text-anchor="middle" font-weight="normal" >0</text>
<text x="259.70" y="246.00" font-size="8.6" fill="#f0a448" text-anchor="middle" font-weight="normal" >1126</text>
<text x="306.20" y="246.00" font-size="8.6" fill="#f0a448" text-anchor="middle" font-weight="normal" >543</text>
<text x="352.70" y="246.00" font-size="8.6" fill="#f0a448" text-anchor="middle" font-weight="normal" >144</text>
<text x="399.20" y="246.00" font-size="8.6" fill="#f0a448" text-anchor="middle" font-weight="normal" >22</text>
<text x="445.70" y="246.00" font-size="8.6" fill="#f0a448" text-anchor="middle" font-weight="normal" >0</text>
<text x="259.70" y="252.60" font-size="8.6" fill="#ef9a88" text-anchor="middle" font-weight="normal" >1134</text>
<text x="306.20" y="252.60" font-size="8.6" fill="#ef9a88" text-anchor="middle" font-weight="normal" >525</text>
<text x="352.70" y="252.60" font-size="8.6" fill="#ef9a88" text-anchor="middle" font-weight="normal" >108</text>
<text x="399.20" y="252.60" font-size="8.6" fill="#ef9a88" text-anchor="middle" font-weight="normal" >7</text>
<text x="445.70" y="252.60" font-size="8.6" fill="#ef9a88" text-anchor="middle" font-weight="normal" >0</text>
<text x="259.70" y="259.20" font-size="8.6" fill="#c42a36" text-anchor="middle" font-weight="normal" >1146</text>
<text x="306.20" y="259.20" font-size="8.6" fill="#c42a36" text-anchor="middle" font-weight="normal" >382</text>
<text x="352.70" y="259.20" font-size="8.6" fill="#c42a36" text-anchor="middle" font-weight="normal" >61</text>
<text x="399.20" y="259.20" font-size="8.6" fill="#c42a36" text-anchor="middle" font-weight="normal" >0</text>
<text x="445.70" y="259.20" font-size="8.6" fill="#c42a36" text-anchor="middle" font-weight="normal" >0</text>
<text x="259.70" y="265.80" font-size="8.6" fill="#8a1c2c" text-anchor="middle" font-weight="normal" >1119</text>
<text x="306.20" y="265.80" font-size="8.6" fill="#8a1c2c" text-anchor="middle" font-weight="normal" >205</text>
<text x="352.70" y="265.80" font-size="8.6" fill="#8a1c2c" text-anchor="middle" font-weight="normal" >0</text>
<text x="399.20" y="265.80" font-size="8.6" fill="#8a1c2c" text-anchor="middle" font-weight="normal" >0</text>
<text x="445.70" y="265.80" font-size="8.6" fill="#8a1c2c" text-anchor="middle" font-weight="normal" >0</text>
<text x="573.10" y="24.00" font-size="10.8" fill="#111" text-anchor="middle" font-weight="normal" >Moderate dementia</text>
<line x1="526.30" y1="38.60" x2="532.90" y2="38.60" stroke="#2a8a4a" stroke-width="0.75" />
<line x1="529.60" y1="37.30" x2="529.60" y2="39.90" stroke="#2a8a4a" stroke-width="0.75" />
<text transform="translate(535.70,41.60) scale(1,1.15)" font-size="8" fill="#222" text-anchor="start" font-weight="normal" >0</text>
<line x1="542.70" y1="38.60" x2="549.30" y2="38.60" stroke="#a8d68c" stroke-width="0.75" />
<line x1="546.00" y1="37.30" x2="546.00" y2="39.90" stroke="#a8d68c" stroke-width="0.75" />
<text transform="translate(552.60,41.60) scale(1,1.15)" font-size="8" fill="#222" text-anchor="start" font-weight="normal" >I</text>
<line x1="557.50" y1="38.60" x2="564.10" y2="38.60" stroke="#f0a542" stroke-width="0.75" />
<line x1="560.80" y1="37.30" x2="560.80" y2="39.90" stroke="#f0a542" stroke-width="0.75" />
<text transform="translate(567.20,41.60) scale(1,1.15)" font-size="8" fill="#222" text-anchor="start" font-weight="normal" >II</text>
<line x1="574.20" y1="38.60" x2="580.80" y2="38.60" stroke="#ee9077" stroke-width="0.75" />
<line x1="577.50" y1="37.30" x2="577.50" y2="39.90" stroke="#ee9077" stroke-width="0.75" />
<text transform="translate(584.10,41.60) scale(1,1.15)" font-size="8" fill="#222" text-anchor="start" font-weight="normal" >III</text>
<line x1="592.90" y1="38.60" x2="599.50" y2="38.60" stroke="#c42a36" stroke-width="0.75" />
<line x1="596.20" y1="37.30" x2="596.20" y2="39.90" stroke="#c42a36" stroke-width="0.75" />
<text transform="translate(602.80,41.60) scale(1,1.15)" font-size="8" fill="#222" text-anchor="start" font-weight="normal" >IVA</text>
<line x1="618.50" y1="38.60" x2="625.10" y2="38.60" stroke="#8e1f33" stroke-width="0.75" />
<line x1="621.80" y1="37.30" x2="621.80" y2="39.90" stroke="#8e1f33" stroke-width="0.75" />
<text transform="translate(628.30,41.60) scale(1,1.15)" font-size="8" fill="#222" text-anchor="start" font-weight="normal" >IVB</text>
<line x1="481.50" y1="50.00" x2="481.50" y2="194.30" stroke="#555" stroke-width="0.9" />
<line x1="481.50" y1="194.30" x2="681.00" y2="194.30" stroke="#666" stroke-width="0.9" />
<line x1="479.50" y1="188.00" x2="481.50" y2="188.00" stroke="#444" stroke-width="0.8" />
<text transform="translate(478.90,190.60) scale(1,1.15)" font-size="7.4" fill="#333" text-anchor="end" font-weight="normal" >0.00</text>
<line x1="479.50" y1="155.12" x2="481.50" y2="155.12" stroke="#444" stroke-width="0.8" />
<text transform="translate(478.90,157.72) scale(1,1.15)" font-size="7.4" fill="#333" text-anchor="end" font-weight="normal" >0.25</text>
<line x1="479.50" y1="122.25" x2="481.50" y2="122.25" stroke="#444" stroke-width="0.8" />
<text transform="translate(478.90,124.85) scale(1,1.15)" font-size="7.4" fill="#333" text-anchor="end" font-weight="normal" >0.50</text>
<line x1="479.50" y1="89.38" x2="481.50" y2="89.38" stroke="#444" stroke-width="0.8" />
<text transform="translate(478.90,91.97) scale(1,1.15)" font-size="7.4" fill="#333" text-anchor="end" font-weight="normal" >0.75</text>
<line x1="479.50" y1="56.50" x2="481.50" y2="56.50" stroke="#444" stroke-width="0.8" />
<text transform="translate(478.90,59.10) scale(1,1.15)" font-size="7.4" fill="#333" text-anchor="end" font-weight="normal" >1.00</text>
<line x1="490.30" y1="194.30" x2="490.30" y2="196.30" stroke="#444" stroke-width="0.8" />
<text x="490.30" y="201.60" font-size="6.8" fill="#333" text-anchor="middle" font-weight="normal" >0</text>
<line x1="535.96" y1="194.30" x2="535.96" y2="196.30" stroke="#444" stroke-width="0.8" />
<text x="535.96" y="201.60" font-size="6.8" fill="#333" text-anchor="middle" font-weight="normal" >2</text>
<line x1="581.62" y1="194.30" x2="581.62" y2="196.30" stroke="#444" stroke-width="0.8" />
<text x="581.62" y="201.60" font-size="6.8" fill="#333" text-anchor="middle" font-weight="normal" >4</text>
<line x1="627.28" y1="194.30" x2="627.28" y2="196.30" stroke="#444" stroke-width="0.8" />
<text x="627.28" y="201.60" font-size="6.8" fill="#333" text-anchor="middle" font-weight="normal" >6</text>
<line x1="672.94" y1="194.30" x2="672.94" y2="196.30" stroke="#444" stroke-width="0.8" />
<text x="672.94" y="201.60" font-size="6.8" fill="#333" text-anchor="middle" font-weight="normal" >8</text>
<text x="581.40" y="210.00" font-size="6.8" fill="#222" text-anchor="middle" font-weight="normal" >Years</text>
<text transform="translate(460.90,118.40) rotate(-90) scale(1.0,1.12)" font-size="6.4" fill="#222" text-anchor="middle">Probability of remaining free of dementia</text>
<path d="M490.30,56.50L660.84,56.50" fill="none" stroke="#2a8a4a" stroke-width="0.65"/>
<path d="M490.30,56.50L531.39,56.50L542.81,56.50L542.81,58.47L548.06,58.47L548.06,60.05L572.26,60.05L572.26,62.15L581.62,62.15L581.62,64.39L586.19,64.39L586.19,66.17L590.75,66.17L590.75,67.94L605.59,67.94L605.59,70.57L656.96,70.57" fill="none" stroke="#a8d68c" stroke-width="0.65"/>
<path d="M490.30,56.50L513.13,56.50L533.68,56.50L533.68,59.26L540.75,59.26L540.75,61.37L550.80,61.37L550.80,63.60L562.21,63.60L562.21,66.36L576.60,66.36L590.75,66.36L590.75,69.26L594.06,69.26L594.06,71.43L597.37,71.43L597.37,73.59L605.25,73.59L605.25,75.37L613.13,75.37L613.13,77.15L613.13,101.47L618.15,101.47L618.15,113.05L622.26,113.05L622.26,121.33L661.07,121.33" fill="none" stroke="#f0a542" stroke-width="0.65"/>
<path d="M490.30,56.50L510.85,56.50L519.29,56.50L519.29,59.26L523.63,59.26L523.63,61.43L527.97,61.43L527.97,63.60L531.32,63.60L531.32,65.49L534.67,65.49L534.67,67.37L538.01,67.37L538.01,69.26L543.04,69.26L543.04,71.43L548.06,71.43L548.06,73.59L552.28,73.59L552.28,75.76L556.51,75.76L556.51,77.93L559.36,77.93L559.36,80.04L562.21,80.04L562.21,82.14L564.57,82.14L564.57,84.07L566.93,84.07L566.93,86.00L569.29,86.00L569.29,87.93L573.63,87.93L573.63,90.03L580.71,90.03L580.71,91.35L583.56,91.35L583.56,93.85L586.41,93.85L586.41,96.34L588.70,96.34L588.70,98.91L590.98,98.91L590.98,101.47L590.98,111.34L607.42,111.34L607.42,117.25L632.99,117.25L632.99,124.62L633.55,124.62L633.55,126.82L634.10,126.82L634.10,129.03L634.66,129.03L634.66,131.24L635.22,131.24L635.22,133.44L635.78,133.44L635.78,135.65L636.34,135.65L636.34,137.85L636.89,137.85L636.89,140.06L637.45,140.06L637.45,142.27L638.01,142.27L638.01,144.47L638.83,144.47L638.83,146.79L639.65,146.79L639.65,149.10L640.48,149.10L640.48,151.42L641.30,151.42L641.30,153.73L642.12,153.73L642.12,156.05L646.23,156.05L646.23,188.00" fill="none" stroke="#ee9077" stroke-width="0.65"/>
<path d="M490.30,56.50L506.97,56.50L509.93,56.50L509.93,57.95L517.24,57.95L517.24,60.18L523.86,60.18L523.86,61.76L528.20,61.76L528.20,64.65L534.36,64.65L534.36,66.76L536.42,66.76L536.42,67.94L537.41,67.94L537.41,70.04L538.40,70.04L538.40,72.15L539.38,72.15L539.38,74.25L543.72,74.25L543.72,76.75L548.06,76.75L548.06,79.25L549.43,79.25L549.43,81.18L550.80,81.18L550.80,83.11L552.17,83.11L552.17,85.04L553.65,85.04L553.65,87.53L555.14,87.53L555.14,90.03L557.50,90.03L557.50,92.40L559.86,92.40L559.86,94.77L562.21,94.77L562.21,97.13L567.92,97.13L567.92,100.03L580.94,100.03L580.94,102.13L589.15,102.13L589.15,103.97L589.15,112.26L590.83,112.26L590.83,114.75L592.50,114.75L592.50,117.25L594.18,117.25L594.18,119.75L603.31,119.75L603.31,127.12L614.95,127.12L614.95,131.19L620.66,131.19L620.66,140.27L638.01,140.27L638.01,152.76L649.65,152.76L649.65,188.00" fill="none" stroke="#c42a36" stroke-width="0.65"/>
<path d="M490.30,56.50L498.98,56.50L498.98,57.68L506.28,57.68L506.28,59.52L511.30,59.52L511.30,62.42L512.45,62.42L512.45,64.59L513.59,64.59L513.59,66.76L517.24,66.76L517.24,69.32L520.89,69.32L520.89,71.89L528.20,71.89L528.20,73.46L531.28,73.46L531.28,75.57L534.36,75.57L534.36,77.67L538.01,77.67L538.01,80.70L538.36,80.70L538.36,82.83L538.70,82.83L538.70,84.97L539.04,84.97L539.04,87.11L539.38,87.11L539.38,89.24L540.83,89.24L540.83,91.17L542.28,91.17L542.28,93.10L543.72,93.10L543.72,95.03L545.17,95.03L545.17,96.91L546.61,96.91L546.61,98.80L548.06,98.80L548.06,100.68L549.20,100.68L549.20,102.68L550.34,102.68L550.34,104.68L551.48,104.68L551.48,106.68L552.63,106.68L552.63,108.68L553.77,108.68L553.77,110.68L554.63,110.68L554.63,112.68L555.50,112.68L555.50,114.68L556.37,114.68L556.37,116.67L557.24,116.67L557.24,118.67L558.11,118.67L558.11,120.67L558.65,120.67L558.65,122.67L559.20,122.67L559.20,124.67L559.75,124.67L559.75,126.67L560.30,126.67L560.30,128.67L560.84,128.67L560.84,130.67L562.75,130.67L562.75,133.08L564.65,133.08L564.65,135.49L566.55,135.49L566.55,137.90L570.43,137.90L570.43,140.33L574.31,140.33L574.31,142.76L580.94,142.76L580.94,146.05L582.61,146.05L582.61,148.29L584.28,148.29L584.28,150.52L585.96,150.52L585.96,152.76L592.58,152.76L592.58,166.04L599.20,166.04L599.20,169.33L619.06,169.33L625.68,169.33L625.68,172.61L627.89,172.61L627.89,174.50L630.10,174.50L630.10,176.38L632.30,176.38L632.30,178.27L647.14,178.27L647.14,179.98L659.47,179.98" fill="none" stroke="#8a1a2a" stroke-width="0.65"/>
<path d="M507.16,56.50h2.8M508.56,55.00v3M516.30,56.50h2.8M517.70,55.00v3M523.14,56.50h2.8M524.54,55.00v3M527.71,56.50h2.8M529.11,55.00v3M532.28,56.50h2.8M533.68,55.00v3M534.56,56.50h2.8M535.96,55.00v3M536.84,56.50h2.8M538.24,55.00v3M539.13,56.50h2.8M540.53,55.00v3M543.69,56.50h2.8M545.09,55.00v3M548.26,56.50h2.8M549.66,55.00v3M552.82,56.50h2.8M554.22,55.00v3M557.39,56.50h2.8M558.79,55.00v3M559.67,56.50h2.8M561.07,55.00v3M564.24,56.50h2.8M565.64,55.00v3M568.81,56.50h2.8M570.21,55.00v3M573.37,56.50h2.8M574.77,55.00v3M577.94,56.50h2.8M579.34,55.00v3M582.50,56.50h2.8M583.90,55.00v3M587.07,56.50h2.8M588.47,55.00v3M591.63,56.50h2.8M593.03,55.00v3M596.20,56.50h2.8M597.60,55.00v3M603.05,56.50h2.8M604.45,55.00v3M609.90,56.50h2.8M611.30,55.00v3M614.47,56.50h2.8M615.87,55.00v3M621.31,56.50h2.8M622.71,55.00v3M625.88,56.50h2.8M627.28,55.00v3M632.73,56.50h2.8M634.13,55.00v3M639.58,56.50h2.8M640.98,55.00v3M648.71,56.50h2.8M650.11,55.00v3M659.44,56.50h2.8M660.84,55.00v3M619.11,56.50h2.8M620.51,55.00v3M575.19,56.50h2.8M576.59,55.00v3M526.85,56.50h2.8M528.25,55.00v3M625.40,56.50h2.8M626.80,55.00v3M551.70,56.50h2.8M553.10,55.00v3M627.29,56.50h2.8M628.69,55.00v3M654.87,56.50h2.8M656.27,55.00v3M561.92,56.50h2.8M563.32,55.00v3M562.82,56.50h2.8M564.22,55.00v3M650.85,56.50h2.8M652.25,55.00v3M615.02,56.50h2.8M616.42,55.00v3M525.47,56.50h2.8M526.87,55.00v3M518.54,56.50h2.8M519.94,55.00v3M522.43,56.50h2.8M523.83,55.00v3M644.08,56.50h2.8M645.48,55.00v3M628.21,56.50h2.8M629.61,55.00v3M521.63,56.50h2.8M523.03,55.00v3M631.44,56.50h2.8M632.84,55.00v3M656.26,56.50h2.8M657.66,55.00v3M604.12,56.50h2.8M605.52,55.00v3M554.59,56.50h2.8M555.99,55.00v3M586.59,56.50h2.8M587.99,55.00v3M519.17,56.50h2.8M520.57,55.00v3M500.33,56.50h2.8M501.73,55.00v3M654.74,56.50h2.8M656.14,55.00v3M602.89,56.50h2.8M604.29,55.00v3M583.03,56.50h2.8M584.43,55.00v3M648.73,56.50h2.8M650.13,55.00v3M568.05,56.50h2.8M569.45,55.00v3M638.74,56.50h2.8M640.14,55.00v3M631.38,56.50h2.8M632.78,55.00v3M532.10,56.50h2.8M533.50,55.00v3M538.68,56.50h2.8M540.08,55.00v3M545.32,56.50h2.8M546.72,55.00v3M536.86,56.50h2.8M538.26,55.00v3M592.69,56.50h2.8M594.09,55.00v3M539.90,56.50h2.8M541.30,55.00v3M565.66,56.50h2.8M567.06,55.00v3M519.19,56.50h2.8M520.59,55.00v3M644.92,56.50h2.8M646.32,55.00v3" stroke="#2a8a4a" stroke-width="0.9" fill="none"/>
<path d="M523.14,56.50h2.8M524.54,55.00v3M532.28,56.89h2.8M533.68,55.39v3M539.13,58.08h2.8M540.53,56.58v3M550.54,60.39h2.8M551.94,58.89v3M555.11,60.78h2.8M556.51,59.28v3M559.67,61.18h2.8M561.07,59.68v3M564.24,61.58h2.8M565.64,60.08v3M575.65,63.30h2.8M577.05,61.80v3M587.07,67.05h2.8M588.47,65.55v3M607.62,70.57h2.8M609.02,69.07v3M614.47,70.57h2.8M615.87,69.07v3M619.03,70.57h2.8M620.43,69.07v3M623.60,70.57h2.8M625.00,69.07v3M628.16,70.57h2.8M629.56,69.07v3M632.73,70.57h2.8M634.13,69.07v3M639.58,70.57h2.8M640.98,69.07v3M646.43,70.57h2.8M647.83,69.07v3M655.56,70.57h2.8M656.96,69.07v3M553.76,60.67h2.8M555.16,59.17v3M570.20,62.10h2.8M571.60,60.60v3M589.93,68.04h2.8M591.33,66.54v3M640.48,70.57h2.8M641.88,69.07v3M564.29,61.58h2.8M565.69,60.08v3M642.60,70.57h2.8M644.00,69.07v3M577.06,63.63h2.8M578.46,62.13v3M581.81,65.01h2.8M583.21,63.51v3M580.50,64.50h2.8M581.90,63.00v3M500.98,56.50h2.8M502.38,55.00v3M567.36,61.85h2.8M568.76,60.35v3M526.88,56.50h2.8M528.28,55.00v3M498.65,56.50h2.8M500.05,55.00v3M623.92,70.57h2.8M625.32,69.07v3M525.18,56.50h2.8M526.58,55.00v3M572.62,62.57h2.8M574.02,61.07v3M612.27,70.57h2.8M613.67,69.07v3M585.69,66.52h2.8M587.09,65.02v3M549.38,60.29h2.8M550.78,58.79v3M579.69,64.26h2.8M581.09,62.76v3M585.53,66.45h2.8M586.93,64.95v3M621.58,70.57h2.8M622.98,69.07v3M514.75,56.50h2.8M516.15,55.00v3M586.29,66.75h2.8M587.69,65.25v3M537.18,57.74h2.8M538.58,56.24v3M541.65,58.55h2.8M543.05,57.05v3M619.68,70.57h2.8M621.08,69.07v3M578.01,63.86h2.8M579.41,62.36v3M586.52,66.84h2.8M587.92,65.34v3M617.75,70.57h2.8M619.15,69.07v3" stroke="#a8d68c" stroke-width="0.9" fill="none"/>
<path d="M516.30,57.11h2.8M517.70,55.61v3M523.14,58.03h2.8M524.54,56.53v3M534.56,59.94h2.8M535.96,58.44v3M543.69,62.33h2.8M545.09,60.83v3M548.26,63.35h2.8M549.66,61.85v3M555.11,64.98h2.8M556.51,63.48v3M559.67,66.09h2.8M561.07,64.59v3M568.81,66.36h2.8M570.21,64.86v3M575.65,66.46h2.8M577.05,64.96v3M580.22,67.39h2.8M581.62,65.89v3M589.35,69.26h2.8M590.75,67.76v3M598.48,74.16h2.8M599.88,72.66v3M605.33,75.70h2.8M606.73,74.20v3M614.47,101.47h2.8M615.87,99.97v3M623.60,121.33h2.8M625.00,119.83v3M630.45,121.33h2.8M631.85,119.83v3M639.58,121.33h2.8M640.98,119.83v3M659.44,121.33h2.8M660.84,119.83v3M645.52,121.33h2.8M646.92,119.83v3M569.68,66.36h2.8M571.08,64.86v3M597.04,73.84h2.8M598.44,72.34v3M579.75,67.29h2.8M581.15,65.79v3M580.82,67.51h2.8M582.22,66.01v3M610.00,76.76h2.8M611.40,75.26v3M571.15,66.36h2.8M572.55,64.86v3M584.23,68.21h2.8M585.63,66.71v3M575.30,66.38h2.8M576.70,64.88v3M650.21,121.33h2.8M651.61,119.83v3M611.05,76.99h2.8M612.45,75.49v3M639.71,121.33h2.8M641.11,119.83v3M650.32,121.33h2.8M651.72,119.83v3M539.99,61.51h2.8M541.39,60.01v3M588.47,69.08h2.8M589.87,67.58v3M650.50,121.33h2.8M651.90,119.83v3M633.81,121.33h2.8M635.21,119.83v3M520.20,57.64h2.8M521.60,56.14v3M517.69,57.30h2.8M519.09,55.80v3M569.49,66.36h2.8M570.89,64.86v3" stroke="#f0a542" stroke-width="0.9" fill="none"/>
<path d="M520.86,60.75h2.8M522.26,59.25v3M529.99,65.53h2.8M531.39,64.03v3M536.84,69.35h2.8M538.24,67.85v3M545.98,73.30h2.8M547.38,71.80v3M555.11,77.93h2.8M556.51,76.43v3M564.24,84.94h2.8M565.64,83.44v3M568.81,88.37h2.8M570.21,86.87v3M577.94,91.09h2.8M579.34,89.59v3M593.92,111.34h2.8M595.32,109.84v3M598.48,111.34h2.8M599.88,109.84v3M603.05,111.34h2.8M604.45,109.84v3M625.88,117.25h2.8M627.28,115.75v3M508.68,56.50h2.8M510.08,55.00v3M533.36,67.42h2.8M534.76,65.92v3M508.77,56.50h2.8M510.17,55.00v3M596.31,111.34h2.8M597.71,109.84v3M613.11,117.25h2.8M614.51,115.75v3M629.71,117.25h2.8M631.11,115.75v3M520.70,60.67h2.8M522.10,59.17v3M603.16,111.34h2.8M604.56,109.84v3M594.96,111.34h2.8M596.36,109.84v3M519.02,59.83h2.8M520.42,58.33v3M627.63,117.25h2.8M629.03,115.75v3M640.06,154.20h2.8M641.46,152.70v3" stroke="#ee9077" stroke-width="0.9" fill="none"/>
<path d="M514.01,59.62h2.8M515.41,58.12v3M523.14,62.22h2.8M524.54,60.72v3M529.99,65.74h2.8M531.39,64.24v3M534.56,67.68h2.8M535.96,66.18v3M541.41,76.23h2.8M542.81,74.73v3M548.26,81.50h2.8M549.66,80.00v3M557.39,93.70h2.8M558.79,92.20v3M564.24,98.87h2.8M565.64,97.37v3M575.65,101.50h2.8M577.05,100.00v3M580.22,102.28h2.8M581.62,100.78v3M593.92,119.75h2.8M595.32,118.25v3M598.48,119.75h2.8M599.88,118.25v3M623.60,140.27h2.8M625.00,138.77v3M630.45,140.27h2.8M631.85,138.77v3" stroke="#c42a36" stroke-width="0.9" fill="none"/>
<path d="M511.73,65.89h2.8M513.13,64.39v3M516.30,69.64h2.8M517.70,68.14v3M525.43,73.17h2.8M526.83,71.67v3M529.99,75.65h2.8M531.39,74.15v3M543.69,96.82h2.8M545.09,95.32v3M555.11,116.99h2.8M556.51,115.49v3M557.39,123.17h2.8M558.79,121.67v3M566.52,138.76h2.8M567.92,137.26v3M589.35,152.76h2.8M590.75,151.26v3M625.88,173.98h2.8M627.28,172.48v3M650.99,179.98h2.8M652.39,178.48v3M654.42,179.98h2.8M655.82,178.48v3M657.84,179.98h2.8M659.24,178.48v3" stroke="#8a1a2a" stroke-width="0.9" fill="none"/>
<text transform="translate(493.80,164.80) scale(1,1.05)" font-size="8.4" fill="#222" text-anchor="start" font-weight="normal" >P &lt; 0.001</text>
<text x="477.80" y="221.70" font-size="6.8" fill="#111" text-anchor="start" font-weight="normal" >Number at risk</text>
<line x1="477.40" y1="225.00" x2="477.40" y2="267.40" stroke="#555" stroke-width="0.9" />
<line x1="477.40" y1="267.40" x2="681.00" y2="267.40" stroke="#555" stroke-width="0.9" />
<text x="486.70" y="232.80" font-size="8.6" fill="#2e8a50" text-anchor="middle" font-weight="normal" >1246</text>
<text x="533.20" y="232.80" font-size="8.6" fill="#2e8a50" text-anchor="middle" font-weight="normal" >657</text>
<text x="579.70" y="232.80" font-size="8.6" fill="#2e8a50" text-anchor="middle" font-weight="normal" >231</text>
<text x="626.20" y="232.80" font-size="8.6" fill="#2e8a50" text-anchor="middle" font-weight="normal" >39</text>
<text x="672.70" y="232.80" font-size="8.6" fill="#2e8a50" text-anchor="middle" font-weight="normal" >0</text>
<text x="486.70" y="239.40" font-size="8.6" fill="#a6d890" text-anchor="middle" font-weight="normal" >1253</text>
<text x="533.20" y="239.40" font-size="8.6" fill="#a6d890" text-anchor="middle" font-weight="normal" >700</text>
<text x="579.70" y="239.40" font-size="8.6" fill="#a6d890" text-anchor="middle" font-weight="normal" >228</text>
<text x="626.20" y="239.40" font-size="8.6" fill="#a6d890" text-anchor="middle" font-weight="normal" >88</text>
<text x="672.70" y="239.40" font-size="8.6" fill="#a6d890" text-anchor="middle" font-weight="normal" >0</text>
<text x="486.70" y="246.00" font-size="8.6" fill="#f0a448" text-anchor="middle" font-weight="normal" >1270</text>
<text x="533.20" y="246.00" font-size="8.6" fill="#f0a448" text-anchor="middle" font-weight="normal" >687</text>
<text x="579.70" y="246.00" font-size="8.6" fill="#f0a448" text-anchor="middle" font-weight="normal" >228</text>
<text x="626.20" y="246.00" font-size="8.6" fill="#f0a448" text-anchor="middle" font-weight="normal" >32</text>
<text x="672.70" y="246.00" font-size="8.6" fill="#f0a448" text-anchor="middle" font-weight="normal" >0</text>
<text x="486.70" y="252.60" font-size="8.6" fill="#ef9a88" text-anchor="middle" font-weight="normal" >1272</text>
<text x="533.20" y="252.60" font-size="8.6" fill="#ef9a88" text-anchor="middle" font-weight="normal" >685</text>
<text x="579.70" y="252.60" font-size="8.6" fill="#ef9a88" text-anchor="middle" font-weight="normal" >175</text>
<text x="626.20" y="252.60" font-size="8.6" fill="#ef9a88" text-anchor="middle" font-weight="normal" >41</text>
<text x="672.70" y="252.60" font-size="8.6" fill="#ef9a88" text-anchor="middle" font-weight="normal" >0</text>
<text x="486.70" y="259.20" font-size="8.6" fill="#c42a36" text-anchor="middle" font-weight="normal" >1247</text>
<text x="533.20" y="259.20" font-size="8.6" fill="#c42a36" text-anchor="middle" font-weight="normal" >747</text>
<text x="579.70" y="259.20" font-size="8.6" fill="#c42a36" text-anchor="middle" font-weight="normal" >194</text>
<text x="626.20" y="259.20" font-size="8.6" fill="#c42a36" text-anchor="middle" font-weight="normal" >41</text>
<text x="672.70" y="259.20" font-size="8.6" fill="#c42a36" text-anchor="middle" font-weight="normal" >0</text>
<text x="486.70" y="265.80" font-size="8.6" fill="#8a1c2c" text-anchor="middle" font-weight="normal" >1258</text>
<text x="533.20" y="265.80" font-size="8.6" fill="#8a1c2c" text-anchor="middle" font-weight="normal" >570</text>
<text x="579.70" y="265.80" font-size="8.6" fill="#8a1c2c" text-anchor="middle" font-weight="normal" >128</text>
<text x="626.20" y="265.80" font-size="8.6" fill="#8a1c2c" text-anchor="middle" font-weight="normal" >42</text>
<text x="672.70" y="265.80" font-size="8.6" fill="#8a1c2c" text-anchor="middle" font-weight="normal" >0</text>
<text x="8.30" y="296.30" font-size="15" fill="#000" text-anchor="start" font-weight="bold" >b</text>
<text x="342.20" y="297.80" font-size="12" fill="#111" text-anchor="middle" font-weight="normal" >P-values obtained from pairwise comparisons</text>
<text x="123.60" y="320.20" font-size="10.7" fill="#111" text-anchor="middle" font-weight="normal" >Very mild dementia</text>
<rect x="30.10" y="323.70" width="32.10" height="14.20" fill="#2a7f48" />
<text transform="translate(46.00,335.80) scale(1,1.05)" font-size="9.3" fill="#fff" text-anchor="middle" font-weight="bold" >0</text>
<rect x="61.90" y="323.70" width="32.10" height="14.20" fill="#c6e0b2" />
<text transform="translate(77.80,335.80) scale(1,1.05)" font-size="9.3" fill="#111" text-anchor="middle" font-weight="bold" >I</text>
<rect x="93.70" y="323.70" width="32.10" height="14.20" fill="#f5ad58" />
<text transform="translate(109.60,335.80) scale(1,1.05)" font-size="9.3" fill="#111" text-anchor="middle" font-weight="bold" >II</text>
<rect x="125.50" y="323.70" width="32.10" height="14.20" fill="#ec9d92" />
<text transform="translate(141.40,335.80) scale(1,1.05)" font-size="9.3" fill="#111" text-anchor="middle" font-weight="bold" >III</text>
<rect x="157.30" y="323.70" width="32.10" height="14.20" fill="#e0242f" />
<text transform="translate(173.20,335.80) scale(1,1.05)" font-size="9.3" fill="#fff" text-anchor="middle" font-weight="bold" >IVA</text>
<rect x="189.10" y="323.70" width="32.10" height="14.20" fill="#9c0618" />
<text transform="translate(205.00,335.80) scale(1,1.05)" font-size="9.3" fill="#fff" text-anchor="middle" font-weight="bold" >IVB</text>
<line x1="8.10" y1="323.20" x2="220.90" y2="323.20" stroke="#666" stroke-width="1.1" />
<line x1="8.10" y1="337.90" x2="220.90" y2="337.90" stroke="#555" stroke-width="0.9" />
<rect x="8.10" y="338.60" width="22.00" height="15.05" fill="#2a7f48" />
<text transform="translate(19.10,348.80) scale(1,1.08)" font-size="7.8" fill="#fff" text-anchor="middle" font-weight="bold" >0</text>
<text transform="translate(93.50,349.10) scale(1,1.22)" font-size="7.9" fill="#333" text-anchor="end" font-weight="normal" >0.0016</text>
<text transform="translate(125.30,349.10) scale(1,1.22)" font-size="7.9" fill="#333" text-anchor="end" font-weight="normal" >&lt;0.0001</text>
<text transform="translate(157.10,349.10) scale(1,1.22)" font-size="7.9" fill="#333" text-anchor="end" font-weight="normal" >&lt;0.0001</text>
<text transform="translate(188.90,349.10) scale(1,1.22)" font-size="7.9" fill="#333" text-anchor="end" font-weight="normal" >&lt;0.0001</text>
<text transform="translate(220.70,349.10) scale(1,1.22)" font-size="7.9" fill="#333" text-anchor="end" font-weight="normal" >&lt;0.0001</text>
<rect x="8.10" y="353.35" width="22.00" height="15.05" fill="#c6e0b2" />
<text transform="translate(19.10,363.55) scale(1,1.08)" font-size="7.8" fill="#111" text-anchor="middle" font-weight="bold" >I</text>
<text transform="translate(125.30,363.85) scale(1,1.22)" font-size="7.9" fill="#333" text-anchor="end" font-weight="normal" >&lt;0.0001</text>
<text transform="translate(157.10,363.85) scale(1,1.22)" font-size="7.9" fill="#333" text-anchor="end" font-weight="normal" >&lt;0.0001</text>
<text transform="translate(188.90,363.85) scale(1,1.22)" font-size="7.9" fill="#333" text-anchor="end" font-weight="normal" >&lt;0.0001</text>
<text transform="translate(220.70,363.85) scale(1,1.22)" font-size="7.9" fill="#333" text-anchor="end" font-weight="normal" >&lt;0.0001</text>
<rect x="8.10" y="368.10" width="22.00" height="15.05" fill="#f5ad58" />
<text transform="translate(19.10,378.30) scale(1,1.08)" font-size="7.8" fill="#111" text-anchor="middle" font-weight="bold" >II</text>
<text transform="translate(157.10,378.60) scale(1,1.22)" font-size="7.9" fill="#333" text-anchor="end" font-weight="normal" >&lt;0.0001</text>
<text transform="translate(188.90,378.60) scale(1,1.22)" font-size="7.9" fill="#333" text-anchor="end" font-weight="normal" >&lt;0.0001</text>
<text transform="translate(220.70,378.60) scale(1,1.22)" font-size="7.9" fill="#333" text-anchor="end" font-weight="normal" >&lt;0.0001</text>
<rect x="8.10" y="382.85" width="22.00" height="15.05" fill="#ec9d92" />
<text transform="translate(19.10,393.05) scale(1,1.08)" font-size="7.8" fill="#111" text-anchor="middle" font-weight="bold" >III</text>
<text transform="translate(188.90,393.35) scale(1,1.22)" font-size="7.9" fill="#333" text-anchor="end" font-weight="normal" >&lt;0.0001</text>
<text transform="translate(220.70,393.35) scale(1,1.22)" font-size="7.9" fill="#333" text-anchor="end" font-weight="normal" >0.0001</text>
<rect x="8.10" y="397.60" width="22.00" height="15.05" fill="#e0242f" />
<text transform="translate(19.10,407.80) scale(1,1.08)" font-size="7.8" fill="#fff" text-anchor="middle" font-weight="bold" >IVA</text>
<text transform="translate(220.70,408.10) scale(1,1.22)" font-size="7.9" fill="#333" text-anchor="end" font-weight="normal" >0.8624</text>
<rect x="8.10" y="412.35" width="22.00" height="15.05" fill="#9c0618" />
<text transform="translate(19.10,422.55) scale(1,1.08)" font-size="7.8" fill="#fff" text-anchor="middle" font-weight="bold" >IVB</text>
<line x1="8.10" y1="427.10" x2="220.90" y2="427.10" stroke="#222" stroke-width="1.1" />
<text x="343.20" y="320.00" font-size="10.7" fill="#111" text-anchor="middle" font-weight="normal" >Mild dementia</text>
<rect x="265.30" y="325.40" width="32.02" height="14.10" fill="#2a7f48" />
<text transform="translate(281.16,337.10) scale(1,1.05)" font-size="8.2" fill="#fff" text-anchor="middle" font-weight="bold" >0</text>
<rect x="297.02" y="325.40" width="32.02" height="14.10" fill="#c6e0b2" />
<text transform="translate(312.88,337.10) scale(1,1.05)" font-size="8.2" fill="#111" text-anchor="middle" font-weight="bold" >I</text>
<rect x="328.74" y="325.40" width="32.02" height="14.10" fill="#f5ad58" />
<text transform="translate(344.60,337.10) scale(1,1.05)" font-size="8.2" fill="#111" text-anchor="middle" font-weight="bold" >II</text>
<rect x="360.46" y="325.40" width="32.02" height="14.10" fill="#ec9d92" />
<text transform="translate(376.32,337.10) scale(1,1.05)" font-size="8.2" fill="#111" text-anchor="middle" font-weight="bold" >III</text>
<rect x="392.18" y="325.40" width="32.02" height="14.10" fill="#e0242f" />
<text transform="translate(408.04,337.10) scale(1,1.05)" font-size="8.2" fill="#fff" text-anchor="middle" font-weight="bold" >IVA</text>
<rect x="423.90" y="325.40" width="32.02" height="14.10" fill="#9c0618" />
<text transform="translate(439.76,337.10) scale(1,1.05)" font-size="8.2" fill="#fff" text-anchor="middle" font-weight="bold" >IVB</text>
<line x1="242.80" y1="324.90" x2="455.62" y2="324.90" stroke="#666" stroke-width="1.1" />
<line x1="242.80" y1="339.50" x2="455.62" y2="339.50" stroke="#555" stroke-width="0.9" />
<rect x="242.80" y="340.20" width="22.50" height="14.90" fill="#2a7f48" />
<text transform="translate(254.05,350.40) scale(1,1.08)" font-size="6.8" fill="#fff" text-anchor="middle" font-weight="bold" >0</text>
<text transform="translate(328.54,350.70) scale(1,1.22)" font-size="7.9" fill="#333" text-anchor="end" font-weight="normal" >0.0067</text>
<text transform="translate(360.26,350.70) scale(1,1.22)" font-size="7.9" fill="#333" text-anchor="end" font-weight="normal" >0.0001</text>
<text transform="translate(391.98,350.70) scale(1,1.22)" font-size="7.9" fill="#333" text-anchor="end" font-weight="normal" >&lt;0.0001</text>
<text transform="translate(423.70,350.70) scale(1,1.22)" font-size="7.9" fill="#333" text-anchor="end" font-weight="normal" >&lt;0.0001</text>
<text transform="translate(455.42,350.70) scale(1,1.22)" font-size="7.9" fill="#333" text-anchor="end" font-weight="normal" >&lt;0.0001</text>
<rect x="242.80" y="354.80" width="22.50" height="14.90" fill="#c6e0b2" />
<text transform="translate(254.05,365.00) scale(1,1.08)" font-size="6.8" fill="#111" text-anchor="middle" font-weight="bold" >I</text>
<text transform="translate(360.26,365.30) scale(1,1.22)" font-size="7.9" fill="#333" text-anchor="end" font-weight="normal" >&lt;0.0001</text>
<text transform="translate(391.98,365.30) scale(1,1.22)" font-size="7.9" fill="#333" text-anchor="end" font-weight="normal" >&lt;0.0001</text>
<text transform="translate(423.70,365.30) scale(1,1.22)" font-size="7.9" fill="#333" text-anchor="end" font-weight="normal" >&lt;0.0001</text>
<text transform="translate(455.42,365.30) scale(1,1.22)" font-size="7.9" fill="#333" text-anchor="end" font-weight="normal" >&lt;0.0001</text>
<rect x="242.80" y="369.40" width="22.50" height="14.90" fill="#f5ad58" />
<text transform="translate(254.05,379.60) scale(1,1.08)" font-size="6.8" fill="#111" text-anchor="middle" font-weight="bold" >II</text>
<text transform="translate(391.98,379.90) scale(1,1.22)" font-size="7.9" fill="#333" text-anchor="end" font-weight="normal" >&lt;0.0001</text>
<text transform="translate(423.70,379.90) scale(1,1.22)" font-size="7.9" fill="#333" text-anchor="end" font-weight="normal" >&lt;0.0001</text>
<text transform="translate(455.42,379.90) scale(1,1.22)" font-size="7.9" fill="#333" text-anchor="end" font-weight="normal" >&lt;0.0001</text>
<rect x="242.80" y="384.00" width="22.50" height="14.90" fill="#ec9d92" />
<text transform="translate(254.05,394.20) scale(1,1.08)" font-size="6.8" fill="#111" text-anchor="middle" font-weight="bold" >III</text>
<text transform="translate(423.70,394.50) scale(1,1.22)" font-size="7.9" fill="#333" text-anchor="end" font-weight="normal" >&lt;0.0001</text>
<text transform="translate(455.42,394.50) scale(1,1.22)" font-size="7.9" fill="#333" text-anchor="end" font-weight="normal" >&lt;0.0001</text>
<rect x="242.80" y="398.60" width="22.50" height="14.90" fill="#e0242f" />
<text transform="translate(254.05,408.80) scale(1,1.08)" font-size="6.8" fill="#fff" text-anchor="middle" font-weight="bold" >IVA</text>
<text transform="translate(455.42,409.10) scale(1,1.22)" font-size="7.9" fill="#333" text-anchor="end" font-weight="normal" >0.0164</text>
<rect x="242.80" y="413.20" width="22.50" height="14.90" fill="#9c0618" />
<text transform="translate(254.05,423.40) scale(1,1.08)" font-size="6.8" fill="#fff" text-anchor="middle" font-weight="bold" >IVB</text>
<line x1="242.80" y1="427.80" x2="455.62" y2="427.80" stroke="#222" stroke-width="1.1" />
<text x="573.50" y="320.00" font-size="10.7" fill="#111" text-anchor="middle" font-weight="normal" >Moderate dementia</text>
<rect x="493.70" y="325.40" width="32.02" height="14.10" fill="#2a7f48" />
<text transform="translate(509.56,337.10) scale(1,1.05)" font-size="8.2" fill="#fff" text-anchor="middle" font-weight="bold" >0</text>
<rect x="525.42" y="325.40" width="32.02" height="14.10" fill="#c6e0b2" />
<text transform="translate(541.28,337.10) scale(1,1.05)" font-size="8.2" fill="#111" text-anchor="middle" font-weight="bold" >I</text>
<rect x="557.14" y="325.40" width="32.02" height="14.10" fill="#f5ad58" />
<text transform="translate(573.00,337.10) scale(1,1.05)" font-size="8.2" fill="#111" text-anchor="middle" font-weight="bold" >II</text>
<rect x="588.86" y="325.40" width="32.02" height="14.10" fill="#ec9d92" />
<text transform="translate(604.72,337.10) scale(1,1.05)" font-size="8.2" fill="#111" text-anchor="middle" font-weight="bold" >III</text>
<rect x="620.58" y="325.40" width="32.02" height="14.10" fill="#e0242f" />
<text transform="translate(636.44,337.10) scale(1,1.05)" font-size="8.2" fill="#fff" text-anchor="middle" font-weight="bold" >IVA</text>
<rect x="652.30" y="325.40" width="32.02" height="14.10" fill="#9c0618" />
<text transform="translate(668.16,337.10) scale(1,1.05)" font-size="8.2" fill="#fff" text-anchor="middle" font-weight="bold" >IVB</text>
<line x1="472.30" y1="324.90" x2="684.02" y2="324.90" stroke="#666" stroke-width="1.1" />
<line x1="472.30" y1="339.50" x2="684.02" y2="339.50" stroke="#555" stroke-width="0.9" />
<rect x="472.30" y="340.20" width="21.40" height="14.90" fill="#2a7f48" />
<text transform="translate(483.00,350.40) scale(1,1.08)" font-size="6.8" fill="#fff" text-anchor="middle" font-weight="bold" >0</text>
<text transform="translate(556.94,350.70) scale(1,1.22)" font-size="7.9" fill="#333" text-anchor="end" font-weight="normal" >0.1138</text>
<text transform="translate(588.66,350.70) scale(1,1.22)" font-size="7.9" fill="#333" text-anchor="end" font-weight="normal" >0.0004</text>
<text transform="translate(620.38,350.70) scale(1,1.22)" font-size="7.9" fill="#333" text-anchor="end" font-weight="normal" >&lt;0.0001</text>
<text transform="translate(652.10,350.70) scale(1,1.22)" font-size="7.9" fill="#333" text-anchor="end" font-weight="normal" >&lt;0.0001</text>
<text transform="translate(683.82,350.70) scale(1,1.22)" font-size="7.9" fill="#333" text-anchor="end" font-weight="normal" >&lt;0.0001</text>
<rect x="472.30" y="354.80" width="21.40" height="14.90" fill="#c6e0b2" />
<text transform="translate(483.00,365.00) scale(1,1.08)" font-size="6.8" fill="#111" text-anchor="middle" font-weight="bold" >I</text>
<text transform="translate(588.66,365.30) scale(1,1.22)" font-size="7.9" fill="#333" text-anchor="end" font-weight="normal" >0.0065</text>
<text transform="translate(620.38,365.30) scale(1,1.22)" font-size="7.9" fill="#333" text-anchor="end" font-weight="normal" >&lt;0.0001</text>
<text transform="translate(652.10,365.30) scale(1,1.22)" font-size="7.9" fill="#333" text-anchor="end" font-weight="normal" >&lt;0.0001</text>
<text transform="translate(683.82,365.30) scale(1,1.22)" font-size="7.9" fill="#333" text-anchor="end" font-weight="normal" >&lt;0.0001</text>
<rect x="472.30" y="369.40" width="21.40" height="14.90" fill="#f5ad58" />
<text transform="translate(483.00,379.60) scale(1,1.08)" font-size="6.8" fill="#111" text-anchor="middle" font-weight="bold" >II</text>
<text transform="translate(620.38,379.90) scale(1,1.22)" font-size="7.9" fill="#333" text-anchor="end" font-weight="normal" >0.0005</text>
<text transform="translate(652.10,379.90) scale(1,1.22)" font-size="7.9" fill="#333" text-anchor="end" font-weight="normal" >&lt;0.0001</text>
<text transform="translate(683.82,379.90) scale(1,1.22)" font-size="7.9" fill="#333" text-anchor="end" font-weight="normal" >&lt;0.0001</text>
<rect x="472.30" y="384.00" width="21.40" height="14.90" fill="#ec9d92" />
<text transform="translate(483.00,394.20) scale(1,1.08)" font-size="6.8" fill="#111" text-anchor="middle" font-weight="bold" >III</text>
<text transform="translate(652.10,394.50) scale(1,1.22)" font-size="7.9" fill="#333" text-anchor="end" font-weight="normal" >0.0830</text>
<text transform="translate(683.82,394.50) scale(1,1.22)" font-size="7.9" fill="#333" text-anchor="end" font-weight="normal" >&lt;0.0001</text>
<rect x="472.30" y="398.60" width="21.40" height="14.90" fill="#e0242f" />
<text transform="translate(483.00,408.80) scale(1,1.08)" font-size="6.8" fill="#fff" text-anchor="middle" font-weight="bold" >IVA</text>
<text transform="translate(683.82,409.10) scale(1,1.22)" font-size="7.9" fill="#333" text-anchor="end" font-weight="normal" >0.0003</text>
<rect x="472.30" y="413.20" width="21.40" height="14.90" fill="#9c0618" />
<text transform="translate(483.00,423.40) scale(1,1.08)" font-size="6.8" fill="#fff" text-anchor="middle" font-weight="bold" >IVB</text>
<line x1="472.30" y1="427.80" x2="684.02" y2="427.80" stroke="#222" stroke-width="1.1" />
<text x="8.60" y="449.20" font-size="15" fill="#000" text-anchor="start" font-weight="bold" >c</text>
<text x="342.90" y="449.60" font-size="12.1" fill="#111" text-anchor="middle" font-weight="normal" >Longitudinal cognitive trajectories for CDR-SB and MMSE</text>
<rect x="167.40" y="463.2" width="9.2" height="8.8" fill="#238b45" fill-opacity="0.16"/>
<line x1="167.70" y1="467.60" x2="176.30" y2="467.60" stroke="#238b45" stroke-width="1.4" />
<circle cx="172.00" cy="467.6" r="1.45" fill="#2a8a4a" stroke="#555" stroke-width="0.35"/>
<text transform="translate(180.40,470.70) scale(1,1.1)" font-size="8.2" fill="#222" text-anchor="start" font-weight="normal" >0</text>
<rect x="188.20" y="463.2" width="9.2" height="8.8" fill="#a6dc8c" fill-opacity="0.2"/>
<line x1="188.50" y1="467.60" x2="197.10" y2="467.60" stroke="#8fd07a" stroke-width="1.0" />
<circle cx="192.80" cy="467.6" r="1.45" fill="#b8e0a0" stroke="#555" stroke-width="0.35"/>
<text transform="translate(201.40,470.70) scale(1,1.1)" font-size="8.2" fill="#222" text-anchor="start" font-weight="normal" >I</text>
<rect x="207.20" y="463.2" width="9.2" height="8.8" fill="#fdc070" fill-opacity="0.25"/>
<line x1="207.50" y1="467.60" x2="216.10" y2="467.60" stroke="#f0a030" stroke-width="1.0" />
<circle cx="211.80" cy="467.6" r="1.45" fill="#f0a850" stroke="#555" stroke-width="0.35"/>
<text transform="translate(219.40,470.70) scale(1,1.1)" font-size="8.2" fill="#222" text-anchor="start" font-weight="normal" >II</text>
<rect x="228.10" y="463.2" width="9.2" height="8.8" fill="#f8a090" fill-opacity="0.22"/>
<line x1="228.40" y1="467.60" x2="237.00" y2="467.60" stroke="#f08060" stroke-width="1.0" />
<circle cx="232.70" cy="467.6" r="1.45" fill="#f0907a" stroke="#555" stroke-width="0.35"/>
<text transform="translate(240.40,470.70) scale(1,1.1)" font-size="8.2" fill="#222" text-anchor="start" font-weight="normal" >III</text>
<rect x="251.00" y="463.2" width="9.2" height="8.8" fill="#ee4455" fill-opacity="0.22"/>
<line x1="251.30" y1="467.60" x2="259.90" y2="467.60" stroke="#d01c2a" stroke-width="1.0" />
<circle cx="255.60" cy="467.6" r="1.45" fill="#c8202c" stroke="#555" stroke-width="0.35"/>
<text transform="translate(263.30,470.70) scale(1,1.1)" font-size="8.2" fill="#222" text-anchor="start" font-weight="normal" >IVA</text>
<rect x="280.20" y="463.2" width="9.2" height="8.8" fill="#a8404c" fill-opacity="0.19"/>
<line x1="280.50" y1="467.60" x2="289.10" y2="467.60" stroke="#8e0c1c" stroke-width="1.0" />
<circle cx="284.80" cy="467.6" r="1.45" fill="#8a1020" stroke="#555" stroke-width="0.35"/>
<text transform="translate(292.90,470.70) scale(1,1.1)" font-size="8.2" fill="#222" text-anchor="start" font-weight="normal" >IVB</text>
<rect x="411.10" y="463.2" width="9.2" height="8.8" fill="#238b45" fill-opacity="0.16"/>
<line x1="411.40" y1="467.60" x2="420.00" y2="467.60" stroke="#238b45" stroke-width="1.4" />
<circle cx="415.70" cy="467.6" r="1.45" fill="#2a8a4a" stroke="#555" stroke-width="0.35"/>
<text transform="translate(424.10,470.70) scale(1,1.1)" font-size="8.2" fill="#222" text-anchor="start" font-weight="normal" >0</text>
<rect x="431.90" y="463.2" width="9.2" height="8.8" fill="#a6dc8c" fill-opacity="0.2"/>
<line x1="432.20" y1="467.60" x2="440.80" y2="467.60" stroke="#8fd07a" stroke-width="1.0" />
<circle cx="436.50" cy="467.6" r="1.45" fill="#b8e0a0" stroke="#555" stroke-width="0.35"/>
<text transform="translate(445.10,470.70) scale(1,1.1)" font-size="8.2" fill="#222" text-anchor="start" font-weight="normal" >I</text>
<rect x="450.90" y="463.2" width="9.2" height="8.8" fill="#fdc070" fill-opacity="0.25"/>
<line x1="451.20" y1="467.60" x2="459.80" y2="467.60" stroke="#f0a030" stroke-width="1.0" />
<circle cx="455.50" cy="467.6" r="1.45" fill="#f0a850" stroke="#555" stroke-width="0.35"/>
<text transform="translate(463.10,470.70) scale(1,1.1)" font-size="8.2" fill="#222" text-anchor="start" font-weight="normal" >II</text>
<rect x="471.80" y="463.2" width="9.2" height="8.8" fill="#f8a090" fill-opacity="0.22"/>
<line x1="472.10" y1="467.60" x2="480.70" y2="467.60" stroke="#f08060" stroke-width="1.0" />
<circle cx="476.40" cy="467.6" r="1.45" fill="#f0907a" stroke="#555" stroke-width="0.35"/>
<text transform="translate(484.10,470.70) scale(1,1.1)" font-size="8.2" fill="#222" text-anchor="start" font-weight="normal" >III</text>
<rect x="494.70" y="463.2" width="9.2" height="8.8" fill="#ee4455" fill-opacity="0.22"/>
<line x1="495.00" y1="467.60" x2="503.60" y2="467.60" stroke="#d01c2a" stroke-width="1.0" />
<circle cx="499.30" cy="467.6" r="1.45" fill="#c8202c" stroke="#555" stroke-width="0.35"/>
<text transform="translate(507.00,470.70) scale(1,1.1)" font-size="8.2" fill="#222" text-anchor="start" font-weight="normal" >IVA</text>
<rect x="523.90" y="463.2" width="9.2" height="8.8" fill="#a8404c" fill-opacity="0.19"/>
<line x1="524.20" y1="467.60" x2="532.80" y2="467.60" stroke="#8e0c1c" stroke-width="1.0" />
<circle cx="528.50" cy="467.6" r="1.45" fill="#8a1020" stroke="#555" stroke-width="0.35"/>
<text transform="translate(536.60,470.70) scale(1,1.1)" font-size="8.2" fill="#222" text-anchor="start" font-weight="normal" >IVB</text>
<line x1="146.60" y1="622.07" x2="323.40" y2="622.07" stroke="#f2f2f2" stroke-width="0.6" />
<line x1="146.60" y1="599.97" x2="323.40" y2="599.97" stroke="#f2f2f2" stroke-width="0.6" />
<line x1="146.60" y1="568.06" x2="323.40" y2="568.06" stroke="#f2f2f2" stroke-width="0.6" />
<line x1="146.60" y1="516.50" x2="323.40" y2="516.50" stroke="#f2f2f2" stroke-width="0.6" />
<line x1="146.60" y1="636.80" x2="323.40" y2="636.80" stroke="#ebebeb" stroke-width="0.8" />
<line x1="146.60" y1="607.34" x2="323.40" y2="607.34" stroke="#ebebeb" stroke-width="0.8" />
<line x1="146.60" y1="592.61" x2="323.40" y2="592.61" stroke="#ebebeb" stroke-width="0.8" />
<line x1="146.60" y1="543.51" x2="323.40" y2="543.51" stroke="#ebebeb" stroke-width="0.8" />
<line x1="146.60" y1="489.50" x2="323.40" y2="489.50" stroke="#ebebeb" stroke-width="0.8" />
<line x1="167.20" y1="482.30" x2="167.20" y2="643.60" stroke="#ebebeb" stroke-width="0.8" />
<line x1="201.10" y1="482.30" x2="201.10" y2="643.60" stroke="#ebebeb" stroke-width="0.8" />
<line x1="235.10" y1="482.30" x2="235.10" y2="643.60" stroke="#ebebeb" stroke-width="0.8" />
<line x1="269.00" y1="482.30" x2="269.00" y2="643.60" stroke="#ebebeb" stroke-width="0.8" />
<line x1="303.00" y1="482.30" x2="303.00" y2="643.60" stroke="#ebebeb" stroke-width="0.8" />
<path d="M167.20,628.40L201.10,628.40L235.10,625.80L269.00,624.50L303.00,621.10L303.00,628.90L269.00,630.20L235.10,630.70L201.10,632.00L167.20,631.00Z" fill="#238b45" fill-opacity="0.16"/>
<path d="M167.20,623.70L201.10,619.80L235.10,617.20L269.00,609.40L303.00,609.40L303.00,623.70L269.00,622.40L235.10,623.70L201.10,625.00L167.20,627.60Z" fill="#a6dc8c" fill-opacity="0.2"/>
<path d="M167.20,617.20L201.10,609.40L235.10,602.90L269.00,599.00L303.00,587.30L303.00,602.90L269.00,609.40L235.10,610.70L201.10,614.60L167.20,621.60Z" fill="#fdc070" fill-opacity="0.25"/>
<path d="M167.20,617.20L201.10,601.60L235.10,589.90L269.00,576.90L303.00,554.80L303.00,573.00L269.00,589.90L235.10,599.50L201.10,609.40L167.20,621.60Z" fill="#f8a090" fill-opacity="0.22"/>
<path d="M167.20,589.10L201.10,580.80L235.10,569.10L269.00,556.10L303.00,537.90L303.00,560.00L269.00,570.40L235.10,580.80L201.10,589.90L167.20,596.40Z" fill="#ee4455" fill-opacity="0.22"/>
<path d="M167.20,587.30L201.10,559.50L235.10,547.00L269.00,524.90L303.00,491.90L303.00,530.90L269.00,547.80L235.10,567.80L201.10,573.50L167.20,593.30Z" fill="#a8404c" fill-opacity="0.19"/>
<path d="M167.20,629.70L201.10,630.20L235.10,628.40L269.00,627.60L303.00,625.00" fill="none" stroke="#238b45" stroke-width="1.45"/>
<circle cx="167.20" cy="629.70" r="1.65" fill="#2a8a4a" stroke="#444" stroke-opacity="0.6" stroke-width="0.4"/>
<circle cx="201.10" cy="630.20" r="1.65" fill="#2a8a4a" stroke="#444" stroke-opacity="0.6" stroke-width="0.4"/>
<circle cx="235.10" cy="628.40" r="1.65" fill="#2a8a4a" stroke="#444" stroke-opacity="0.6" stroke-width="0.4"/>
<circle cx="269.00" cy="627.60" r="1.65" fill="#2a8a4a" stroke="#444" stroke-opacity="0.6" stroke-width="0.4"/>
<circle cx="303.00" cy="625.00" r="1.65" fill="#2a8a4a" stroke="#444" stroke-opacity="0.6" stroke-width="0.4"/>
<path d="M167.20,625.50L201.10,622.40L235.10,620.30L269.00,615.90L303.00,616.70" fill="none" stroke="#8fd07a" stroke-width="1.0"/>
<circle cx="167.20" cy="625.50" r="1.65" fill="#b8e0a0" stroke="#444" stroke-opacity="0.6" stroke-width="0.4"/>
<circle cx="201.10" cy="622.40" r="1.65" fill="#b8e0a0" stroke="#444" stroke-opacity="0.6" stroke-width="0.4"/>
<circle cx="235.10" cy="620.30" r="1.65" fill="#b8e0a0" stroke="#444" stroke-opacity="0.6" stroke-width="0.4"/>
<circle cx="269.00" cy="615.90" r="1.65" fill="#b8e0a0" stroke="#444" stroke-opacity="0.6" stroke-width="0.4"/>
<circle cx="303.00" cy="616.70" r="1.65" fill="#b8e0a0" stroke="#444" stroke-opacity="0.6" stroke-width="0.4"/>
<path d="M167.20,619.30L201.10,612.00L235.10,606.80L269.00,604.20L303.00,595.10" fill="none" stroke="#f0a030" stroke-width="1.0"/>
<circle cx="167.20" cy="619.30" r="1.65" fill="#f0a850" stroke="#444" stroke-opacity="0.6" stroke-width="0.4"/>
<circle cx="201.10" cy="612.00" r="1.65" fill="#f0a850" stroke="#444" stroke-opacity="0.6" stroke-width="0.4"/>
<circle cx="235.10" cy="606.80" r="1.65" fill="#f0a850" stroke="#444" stroke-opacity="0.6" stroke-width="0.4"/>
<circle cx="269.00" cy="604.20" r="1.65" fill="#f0a850" stroke="#444" stroke-opacity="0.6" stroke-width="0.4"/>
<circle cx="303.00" cy="595.10" r="1.65" fill="#f0a850" stroke="#444" stroke-opacity="0.6" stroke-width="0.4"/>
<path d="M167.20,619.30L201.10,605.50L235.10,594.60L269.00,583.40L303.00,563.90" fill="none" stroke="#f08060" stroke-width="1.0"/>
<circle cx="167.20" cy="619.30" r="1.65" fill="#f0907a" stroke="#444" stroke-opacity="0.6" stroke-width="0.4"/>
<circle cx="201.10" cy="605.50" r="1.65" fill="#f0907a" stroke="#444" stroke-opacity="0.6" stroke-width="0.4"/>
<circle cx="235.10" cy="594.60" r="1.65" fill="#f0907a" stroke="#444" stroke-opacity="0.6" stroke-width="0.4"/>
<circle cx="269.00" cy="583.40" r="1.65" fill="#f0907a" stroke="#444" stroke-opacity="0.6" stroke-width="0.4"/>
<circle cx="303.00" cy="563.90" r="1.65" fill="#f0907a" stroke="#444" stroke-opacity="0.6" stroke-width="0.4"/>
<path d="M167.20,592.50L201.10,585.50L235.10,575.10L269.00,563.40L303.00,549.60" fill="none" stroke="#d01c2a" stroke-width="1.0"/>
<circle cx="167.20" cy="592.50" r="1.65" fill="#c8202c" stroke="#444" stroke-opacity="0.6" stroke-width="0.4"/>
<circle cx="201.10" cy="585.50" r="1.65" fill="#c8202c" stroke="#444" stroke-opacity="0.6" stroke-width="0.4"/>
<circle cx="235.10" cy="575.10" r="1.65" fill="#c8202c" stroke="#444" stroke-opacity="0.6" stroke-width="0.4"/>
<circle cx="269.00" cy="563.40" r="1.65" fill="#c8202c" stroke="#444" stroke-opacity="0.6" stroke-width="0.4"/>
<circle cx="303.00" cy="549.60" r="1.65" fill="#c8202c" stroke="#444" stroke-opacity="0.6" stroke-width="0.4"/>
<path d="M167.20,589.90L201.10,566.00L235.10,557.40L269.00,536.10L303.00,511.10" fill="none" stroke="#8e0c1c" stroke-width="1.15"/>
<circle cx="167.20" cy="589.90" r="1.65" fill="#8a1020" stroke="#444" stroke-opacity="0.6" stroke-width="0.4"/>
<circle cx="201.10" cy="566.00" r="1.65" fill="#8a1020" stroke="#444" stroke-opacity="0.6" stroke-width="0.4"/>
<circle cx="235.10" cy="557.40" r="1.65" fill="#8a1020" stroke="#444" stroke-opacity="0.6" stroke-width="0.4"/>
<circle cx="269.00" cy="536.10" r="1.65" fill="#8a1020" stroke="#444" stroke-opacity="0.6" stroke-width="0.4"/>
<circle cx="303.00" cy="511.10" r="1.65" fill="#8a1020" stroke="#444" stroke-opacity="0.6" stroke-width="0.4"/>
<rect x="146.60" y="482.30" width="176.80" height="161.30" fill="none" stroke="#b3b3b3" stroke-width="1"/>
<line x1="144.60" y1="636.80" x2="146.60" y2="636.80" stroke="#555" stroke-width="0.8" />
<text transform="translate(143.60,640.10) scale(1,1.2)" font-size="8.0" fill="#4d4d4d" text-anchor="end" font-weight="bold" >0.0</text>
<line x1="144.60" y1="607.34" x2="146.60" y2="607.34" stroke="#555" stroke-width="0.8" />
<text transform="translate(143.60,610.64) scale(1,1.2)" font-size="8.0" fill="#4d4d4d" text-anchor="end" font-weight="bold" >3.0</text>
<line x1="144.60" y1="592.61" x2="146.60" y2="592.61" stroke="#555" stroke-width="0.8" />
<text transform="translate(143.60,595.91) scale(1,1.2)" font-size="8.0" fill="#4d4d4d" text-anchor="end" font-weight="bold" >4.5</text>
<line x1="144.60" y1="543.51" x2="146.60" y2="543.51" stroke="#555" stroke-width="0.8" />
<text transform="translate(143.60,546.81) scale(1,1.2)" font-size="8.0" fill="#4d4d4d" text-anchor="end" font-weight="bold" >9.5</text>
<line x1="144.60" y1="489.50" x2="146.60" y2="489.50" stroke="#555" stroke-width="0.8" />
<text transform="translate(143.60,492.80) scale(1,1.2)" font-size="8.0" fill="#4d4d4d" text-anchor="end" font-weight="bold" >15.0</text>
<line x1="167.20" y1="643.60" x2="167.20" y2="645.60" stroke="#555" stroke-width="0.8" />
<text transform="translate(167.20,652.80) scale(1,1.1)" font-size="7.8" fill="#333" text-anchor="middle" font-weight="normal" >&lt; 6m</text>
<line x1="201.10" y1="643.60" x2="201.10" y2="645.60" stroke="#555" stroke-width="0.8" />
<text transform="translate(201.10,652.80) scale(1,1.1)" font-size="7.8" fill="#333" text-anchor="middle" font-weight="normal" >1y</text>
<line x1="235.10" y1="643.60" x2="235.10" y2="645.60" stroke="#555" stroke-width="0.8" />
<text transform="translate(235.10,652.80) scale(1,1.1)" font-size="7.8" fill="#333" text-anchor="middle" font-weight="normal" >2y</text>
<line x1="269.00" y1="643.60" x2="269.00" y2="645.60" stroke="#555" stroke-width="0.8" />
<text transform="translate(269.00,652.80) scale(1,1.1)" font-size="7.8" fill="#333" text-anchor="middle" font-weight="normal" >3y</text>
<line x1="303.00" y1="643.60" x2="303.00" y2="645.60" stroke="#555" stroke-width="0.8" />
<text transform="translate(303.00,652.80) scale(1,1.1)" font-size="7.8" fill="#333" text-anchor="middle" font-weight="normal" >&gt;= 4y</text>
<text transform="translate(235.00,662.50) scale(1,1.05)" font-size="8.0" fill="#222" text-anchor="middle" font-weight="normal" >Follow-up duration</text>
<text transform="translate(125.00,562.95) rotate(-90)" font-size="8.2" fill="#222" text-anchor="middle">LSmean of CDR-sb</text>
<line x1="386.50" y1="611.75" x2="570.00" y2="611.75" stroke="#f2f2f2" stroke-width="0.6" />
<line x1="386.50" y1="562.85" x2="570.00" y2="562.85" stroke="#f2f2f2" stroke-width="0.6" />
<line x1="386.50" y1="513.95" x2="570.00" y2="513.95" stroke="#f2f2f2" stroke-width="0.6" />
<line x1="386.50" y1="636.20" x2="570.00" y2="636.20" stroke="#ebebeb" stroke-width="0.8" />
<line x1="386.50" y1="587.30" x2="570.00" y2="587.30" stroke="#ebebeb" stroke-width="0.8" />
<line x1="386.50" y1="538.40" x2="570.00" y2="538.40" stroke="#ebebeb" stroke-width="0.8" />
<line x1="386.50" y1="489.50" x2="570.00" y2="489.50" stroke="#ebebeb" stroke-width="0.8" />
<line x1="408.10" y1="482.30" x2="408.10" y2="643.60" stroke="#ebebeb" stroke-width="0.8" />
<line x1="443.20" y1="482.30" x2="443.20" y2="643.60" stroke="#ebebeb" stroke-width="0.8" />
<line x1="478.60" y1="482.30" x2="478.60" y2="643.60" stroke="#ebebeb" stroke-width="0.8" />
<line x1="513.90" y1="482.30" x2="513.90" y2="643.60" stroke="#ebebeb" stroke-width="0.8" />
<line x1="549.10" y1="482.30" x2="549.10" y2="643.60" stroke="#ebebeb" stroke-width="0.8" />
<path d="M408.10,498.70L443.20,497.70L478.60,498.70L513.90,500.40L549.10,499.50L549.10,506.80L513.90,505.80L478.60,503.10L443.20,500.90L408.10,501.40Z" fill="#238b45" fill-opacity="0.16"/>
<path d="M408.10,504.10L443.20,505.00L478.60,505.80L513.90,506.80L549.10,506.80L549.10,514.40L513.90,512.20L478.60,509.80L443.20,508.50L408.10,506.80Z" fill="#a6dc8c" fill-opacity="0.2"/>
<path d="M408.10,514.40L443.20,517.10L478.60,518.70L513.90,520.30L549.10,522.50L549.10,535.50L513.90,526.30L478.60,524.10L443.20,521.40L408.10,517.90Z" fill="#fdc070" fill-opacity="0.25"/>
<path d="M408.10,517.90L443.20,523.80L478.60,529.80L513.90,533.30L549.10,545.40L549.10,557.60L513.90,540.90L478.60,535.20L443.20,528.70L408.10,521.70Z" fill="#f8a090" fill-opacity="0.22"/>
<path d="M408.10,528.40L443.20,530.60L478.60,537.30L513.90,540.00L549.10,545.40L549.10,560.30L513.90,550.00L478.60,546.30L443.20,537.30L408.10,533.80Z" fill="#ee4455" fill-opacity="0.22"/>
<path d="M408.10,534.60L443.20,541.40L478.60,551.70L513.90,554.90L549.10,568.90L549.10,604.80L513.90,573.80L478.60,564.30L443.20,550.80L408.10,542.70Z" fill="#a8404c" fill-opacity="0.19"/>
<path d="M408.10,500.10L443.20,499.30L478.60,500.90L513.90,503.10L549.10,503.10" fill="none" stroke="#238b45" stroke-width="1.45"/>
<circle cx="408.10" cy="500.10" r="1.65" fill="#2a8a4a" stroke="#444" stroke-opacity="0.6" stroke-width="0.4"/>
<circle cx="443.20" cy="499.30" r="1.65" fill="#2a8a4a" stroke="#444" stroke-opacity="0.6" stroke-width="0.4"/>
<circle cx="478.60" cy="500.90" r="1.65" fill="#2a8a4a" stroke="#444" stroke-opacity="0.6" stroke-width="0.4"/>
<circle cx="513.90" cy="503.10" r="1.65" fill="#2a8a4a" stroke="#444" stroke-opacity="0.6" stroke-width="0.4"/>
<circle cx="549.10" cy="503.10" r="1.65" fill="#2a8a4a" stroke="#444" stroke-opacity="0.6" stroke-width="0.4"/>
<path d="M408.10,505.50L443.20,506.80L478.60,507.90L513.90,509.80L549.10,510.30" fill="none" stroke="#8fd07a" stroke-width="1.0"/>
<circle cx="408.10" cy="505.50" r="1.65" fill="#b8e0a0" stroke="#444" stroke-opacity="0.6" stroke-width="0.4"/>
<circle cx="443.20" cy="506.80" r="1.65" fill="#b8e0a0" stroke="#444" stroke-opacity="0.6" stroke-width="0.4"/>
<circle cx="478.60" cy="507.90" r="1.65" fill="#b8e0a0" stroke="#444" stroke-opacity="0.6" stroke-width="0.4"/>
<circle cx="513.90" cy="509.80" r="1.65" fill="#b8e0a0" stroke="#444" stroke-opacity="0.6" stroke-width="0.4"/>
<circle cx="549.10" cy="510.30" r="1.65" fill="#b8e0a0" stroke="#444" stroke-opacity="0.6" stroke-width="0.4"/>
<path d="M408.10,516.30L443.20,519.30L478.60,521.40L513.90,523.30L549.10,529.20" fill="none" stroke="#f0a030" stroke-width="1.0"/>
<circle cx="408.10" cy="516.30" r="1.65" fill="#f0a850" stroke="#444" stroke-opacity="0.6" stroke-width="0.4"/>
<circle cx="443.20" cy="519.30" r="1.65" fill="#f0a850" stroke="#444" stroke-opacity="0.6" stroke-width="0.4"/>
<circle cx="478.60" cy="521.40" r="1.65" fill="#f0a850" stroke="#444" stroke-opacity="0.6" stroke-width="0.4"/>
<circle cx="513.90" cy="523.30" r="1.65" fill="#f0a850" stroke="#444" stroke-opacity="0.6" stroke-width="0.4"/>
<circle cx="549.10" cy="529.20" r="1.65" fill="#f0a850" stroke="#444" stroke-opacity="0.6" stroke-width="0.4"/>
<path d="M408.10,519.80L443.20,526.30L478.60,532.50L513.90,537.10L549.10,551.70" fill="none" stroke="#f08060" stroke-width="1.0"/>
<circle cx="408.10" cy="519.80" r="1.65" fill="#f0907a" stroke="#444" stroke-opacity="0.6" stroke-width="0.4"/>
<circle cx="443.20" cy="526.30" r="1.65" fill="#f0907a" stroke="#444" stroke-opacity="0.6" stroke-width="0.4"/>
<circle cx="478.60" cy="532.50" r="1.65" fill="#f0907a" stroke="#444" stroke-opacity="0.6" stroke-width="0.4"/>
<circle cx="513.90" cy="537.10" r="1.65" fill="#f0907a" stroke="#444" stroke-opacity="0.6" stroke-width="0.4"/>
<circle cx="549.10" cy="551.70" r="1.65" fill="#f0907a" stroke="#444" stroke-opacity="0.6" stroke-width="0.4"/>
<path d="M408.10,531.10L443.20,534.10L478.60,541.90L513.90,544.90L549.10,552.70" fill="none" stroke="#d01c2a" stroke-width="1.0"/>
<circle cx="408.10" cy="531.10" r="1.65" fill="#c8202c" stroke="#444" stroke-opacity="0.6" stroke-width="0.4"/>
<circle cx="443.20" cy="534.10" r="1.65" fill="#c8202c" stroke="#444" stroke-opacity="0.6" stroke-width="0.4"/>
<circle cx="478.60" cy="541.90" r="1.65" fill="#c8202c" stroke="#444" stroke-opacity="0.6" stroke-width="0.4"/>
<circle cx="513.90" cy="544.90" r="1.65" fill="#c8202c" stroke="#444" stroke-opacity="0.6" stroke-width="0.4"/>
<circle cx="549.10" cy="552.70" r="1.65" fill="#c8202c" stroke="#444" stroke-opacity="0.6" stroke-width="0.4"/>
<path d="M408.10,538.70L443.20,546.00L478.60,558.40L513.90,564.90L549.10,587.30" fill="none" stroke="#8e0c1c" stroke-width="1.15"/>
<circle cx="408.10" cy="538.70" r="1.65" fill="#8a1020" stroke="#444" stroke-opacity="0.6" stroke-width="0.4"/>
<circle cx="443.20" cy="546.00" r="1.65" fill="#8a1020" stroke="#444" stroke-opacity="0.6" stroke-width="0.4"/>
<circle cx="478.60" cy="558.40" r="1.65" fill="#8a1020" stroke="#444" stroke-opacity="0.6" stroke-width="0.4"/>
<circle cx="513.90" cy="564.90" r="1.65" fill="#8a1020" stroke="#444" stroke-opacity="0.6" stroke-width="0.4"/>
<circle cx="549.10" cy="587.30" r="1.65" fill="#8a1020" stroke="#444" stroke-opacity="0.6" stroke-width="0.4"/>
<rect x="386.50" y="482.30" width="183.50" height="161.30" fill="none" stroke="#b3b3b3" stroke-width="1"/>
<line x1="384.50" y1="636.20" x2="386.50" y2="636.20" stroke="#555" stroke-width="0.8" />
<text transform="translate(383.50,639.50) scale(1,1.2)" font-size="8.0" fill="#4d4d4d" text-anchor="end" font-weight="bold" >0</text>
<line x1="384.50" y1="587.30" x2="386.50" y2="587.30" stroke="#555" stroke-width="0.8" />
<text transform="translate(383.50,590.60) scale(1,1.2)" font-size="8.0" fill="#4d4d4d" text-anchor="end" font-weight="bold" >10</text>
<line x1="384.50" y1="538.40" x2="386.50" y2="538.40" stroke="#555" stroke-width="0.8" />
<text transform="translate(383.50,541.70) scale(1,1.2)" font-size="8.0" fill="#4d4d4d" text-anchor="end" font-weight="bold" >20</text>
<line x1="384.50" y1="489.50" x2="386.50" y2="489.50" stroke="#555" stroke-width="0.8" />
<text transform="translate(383.50,492.80) scale(1,1.2)" font-size="8.0" fill="#4d4d4d" text-anchor="end" font-weight="bold" >30</text>
<line x1="408.10" y1="643.60" x2="408.10" y2="645.60" stroke="#555" stroke-width="0.8" />
<text transform="translate(408.10,652.80) scale(1,1.1)" font-size="7.8" fill="#333" text-anchor="middle" font-weight="normal" >&lt; 6m</text>
<line x1="443.20" y1="643.60" x2="443.20" y2="645.60" stroke="#555" stroke-width="0.8" />
<text transform="translate(443.20,652.80) scale(1,1.1)" font-size="7.8" fill="#333" text-anchor="middle" font-weight="normal" >1y</text>
<line x1="478.60" y1="643.60" x2="478.60" y2="645.60" stroke="#555" stroke-width="0.8" />
<text transform="translate(478.60,652.80) scale(1,1.1)" font-size="7.8" fill="#333" text-anchor="middle" font-weight="normal" >2y</text>
<line x1="513.90" y1="643.60" x2="513.90" y2="645.60" stroke="#555" stroke-width="0.8" />
<text transform="translate(513.90,652.80) scale(1,1.1)" font-size="7.8" fill="#333" text-anchor="middle" font-weight="normal" >3y</text>
<line x1="549.10" y1="643.60" x2="549.10" y2="645.60" stroke="#555" stroke-width="0.8" />
<text transform="translate(549.10,652.80) scale(1,1.1)" font-size="7.8" fill="#333" text-anchor="middle" font-weight="normal" >&gt;= 4y</text>
<text transform="translate(478.25,662.50) scale(1,1.05)" font-size="8.0" fill="#222" text-anchor="middle" font-weight="normal" >Follow-up duration</text>
<text transform="translate(371.80,562.95) rotate(-90)" font-size="8.2" fill="#222" text-anchor="middle">LSmean of MMSE</text>
</svg></body></html>
